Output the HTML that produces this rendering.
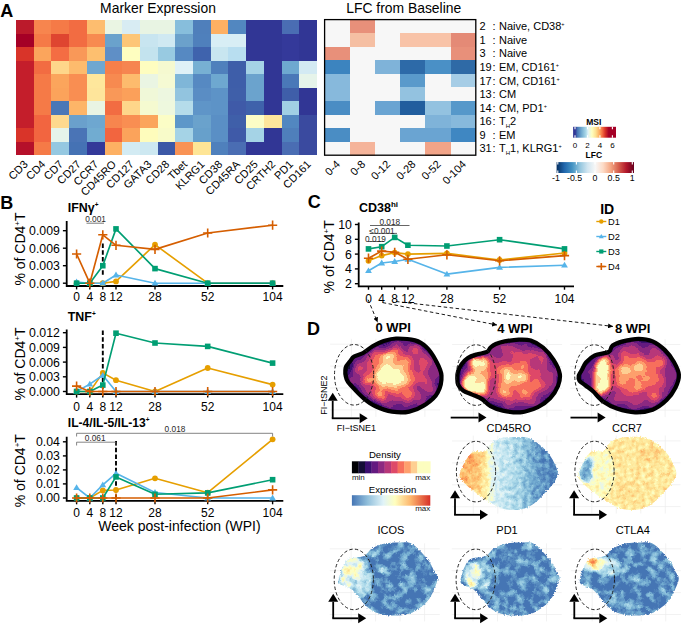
<!DOCTYPE html>
<html><head><meta charset="utf-8"><style>
html,body{margin:0;padding:0;background:#fff;overflow:hidden;width:685px;height:624px;}
svg{display:block;font-family:"Liberation Sans", sans-serif;}
</style></head><body>
<svg width="685" height="624" viewBox="0 0 685 624">
<rect width="685" height="624" fill="#fff"/>
<text x="0.3" y="16.6" font-size="18" text-anchor="start" font-weight="bold" fill="#000" >A</text>
<text x="158.0" y="13.3" font-size="13.9" text-anchor="middle" font-weight="normal" fill="#000" >Marker Expression</text>
<text x="403.7" y="13.3" font-size="13.9" text-anchor="middle" font-weight="normal" fill="#000" >LFC from Baseline</text>
<rect x="16.00" y="20.00" width="18.00" height="13.80" fill="#bb1a2b" shape-rendering="crispEdges"/>
<rect x="33.70" y="20.00" width="18.00" height="13.80" fill="#f7854e" shape-rendering="crispEdges"/>
<rect x="51.40" y="20.00" width="18.00" height="13.80" fill="#f57a47" shape-rendering="crispEdges"/>
<rect x="69.10" y="20.00" width="18.00" height="13.80" fill="#f26c42" shape-rendering="crispEdges"/>
<rect x="86.80" y="20.00" width="18.00" height="13.80" fill="#fdbd6f" shape-rendering="crispEdges"/>
<rect x="104.50" y="20.00" width="18.00" height="13.80" fill="#eaf5e3" shape-rendering="crispEdges"/>
<rect x="122.20" y="20.00" width="18.00" height="13.80" fill="#d8ecf3" shape-rendering="crispEdges"/>
<rect x="139.90" y="20.00" width="18.00" height="13.80" fill="#e8f4e3" shape-rendering="crispEdges"/>
<rect x="157.60" y="20.00" width="18.00" height="13.80" fill="#e8f4e3" shape-rendering="crispEdges"/>
<rect x="175.30" y="20.00" width="18.00" height="13.80" fill="#87bedc" shape-rendering="crispEdges"/>
<rect x="193.00" y="20.00" width="18.00" height="13.80" fill="#4f7fbb" shape-rendering="crispEdges"/>
<rect x="210.70" y="20.00" width="18.00" height="13.80" fill="#fdb063" shape-rendering="crispEdges"/>
<rect x="228.40" y="20.00" width="18.00" height="13.80" fill="#5287c0" shape-rendering="crispEdges"/>
<rect x="246.10" y="20.00" width="18.00" height="13.80" fill="#313695" shape-rendering="crispEdges"/>
<rect x="263.80" y="20.00" width="18.00" height="13.80" fill="#313695" shape-rendering="crispEdges"/>
<rect x="281.50" y="20.00" width="18.00" height="13.80" fill="#4a6db3" shape-rendering="crispEdges"/>
<rect x="299.20" y="20.00" width="18.00" height="13.80" fill="#313695" shape-rendering="crispEdges"/>
<rect x="16.00" y="33.50" width="18.00" height="13.80" fill="#a50026" shape-rendering="crispEdges"/>
<rect x="33.70" y="33.50" width="18.00" height="13.80" fill="#f57a47" shape-rendering="crispEdges"/>
<rect x="51.40" y="33.50" width="18.00" height="13.80" fill="#df4530" shape-rendering="crispEdges"/>
<rect x="69.10" y="33.50" width="18.00" height="13.80" fill="#f26c42" shape-rendering="crispEdges"/>
<rect x="86.80" y="33.50" width="18.00" height="13.80" fill="#f78a50" shape-rendering="crispEdges"/>
<rect x="104.50" y="33.50" width="18.00" height="13.80" fill="#6aa2cc" shape-rendering="crispEdges"/>
<rect x="122.20" y="33.50" width="18.00" height="13.80" fill="#fdc677" shape-rendering="crispEdges"/>
<rect x="139.90" y="33.50" width="18.00" height="13.80" fill="#c8e5f0" shape-rendering="crispEdges"/>
<rect x="157.60" y="33.50" width="18.00" height="13.80" fill="#d0e9f2" shape-rendering="crispEdges"/>
<rect x="175.30" y="33.50" width="18.00" height="13.80" fill="#6ba1cb" shape-rendering="crispEdges"/>
<rect x="193.00" y="33.50" width="18.00" height="13.80" fill="#4f80bc" shape-rendering="crispEdges"/>
<rect x="210.70" y="33.50" width="18.00" height="13.80" fill="#d8eef5" shape-rendering="crispEdges"/>
<rect x="228.40" y="33.50" width="18.00" height="13.80" fill="#d8eef5" shape-rendering="crispEdges"/>
<rect x="246.10" y="33.50" width="18.00" height="13.80" fill="#313695" shape-rendering="crispEdges"/>
<rect x="263.80" y="33.50" width="18.00" height="13.80" fill="#313695" shape-rendering="crispEdges"/>
<rect x="281.50" y="33.50" width="18.00" height="13.80" fill="#34399a" shape-rendering="crispEdges"/>
<rect x="299.20" y="33.50" width="18.00" height="13.80" fill="#313695" shape-rendering="crispEdges"/>
<rect x="16.00" y="47.00" width="18.00" height="13.80" fill="#d93429" shape-rendering="crispEdges"/>
<rect x="33.70" y="47.00" width="18.00" height="13.80" fill="#fba55c" shape-rendering="crispEdges"/>
<rect x="51.40" y="47.00" width="18.00" height="13.80" fill="#f46d43" shape-rendering="crispEdges"/>
<rect x="69.10" y="47.00" width="18.00" height="13.80" fill="#f99858" shape-rendering="crispEdges"/>
<rect x="86.80" y="47.00" width="18.00" height="13.80" fill="#fdbf6f" shape-rendering="crispEdges"/>
<rect x="104.50" y="47.00" width="18.00" height="13.80" fill="#5f8fc6" shape-rendering="crispEdges"/>
<rect x="122.20" y="47.00" width="18.00" height="13.80" fill="#fefec0" shape-rendering="crispEdges"/>
<rect x="139.90" y="47.00" width="18.00" height="13.80" fill="#c3e3ee" shape-rendering="crispEdges"/>
<rect x="157.60" y="47.00" width="18.00" height="13.80" fill="#98cae1" shape-rendering="crispEdges"/>
<rect x="175.30" y="47.00" width="18.00" height="13.80" fill="#5689c2" shape-rendering="crispEdges"/>
<rect x="193.00" y="47.00" width="18.00" height="13.80" fill="#3f63ad" shape-rendering="crispEdges"/>
<rect x="210.70" y="47.00" width="18.00" height="13.80" fill="#c8e6f0" shape-rendering="crispEdges"/>
<rect x="228.40" y="47.00" width="18.00" height="13.80" fill="#b8def0" shape-rendering="crispEdges"/>
<rect x="246.10" y="47.00" width="18.00" height="13.80" fill="#313695" shape-rendering="crispEdges"/>
<rect x="263.80" y="47.00" width="18.00" height="13.80" fill="#313695" shape-rendering="crispEdges"/>
<rect x="281.50" y="47.00" width="18.00" height="13.80" fill="#34399a" shape-rendering="crispEdges"/>
<rect x="299.20" y="47.00" width="18.00" height="13.80" fill="#313695" shape-rendering="crispEdges"/>
<rect x="16.00" y="60.50" width="18.00" height="13.80" fill="#c41e2b" shape-rendering="crispEdges"/>
<rect x="33.70" y="60.50" width="18.00" height="13.80" fill="#f26c42" shape-rendering="crispEdges"/>
<rect x="51.40" y="60.50" width="18.00" height="13.80" fill="#fed68a" shape-rendering="crispEdges"/>
<rect x="69.10" y="60.50" width="18.00" height="13.80" fill="#fdbb6d" shape-rendering="crispEdges"/>
<rect x="86.80" y="60.50" width="18.00" height="13.80" fill="#6fa7d0" shape-rendering="crispEdges"/>
<rect x="104.50" y="60.50" width="18.00" height="13.80" fill="#f67f4a" shape-rendering="crispEdges"/>
<rect x="122.20" y="60.50" width="18.00" height="13.80" fill="#f68550" shape-rendering="crispEdges"/>
<rect x="139.90" y="60.50" width="18.00" height="13.80" fill="#fefdc0" shape-rendering="crispEdges"/>
<rect x="157.60" y="60.50" width="18.00" height="13.80" fill="#f5f9d0" shape-rendering="crispEdges"/>
<rect x="175.30" y="60.50" width="18.00" height="13.80" fill="#dff1f7" shape-rendering="crispEdges"/>
<rect x="193.00" y="60.50" width="18.00" height="13.80" fill="#77b0d3" shape-rendering="crispEdges"/>
<rect x="210.70" y="60.50" width="18.00" height="13.80" fill="#4f80bc" shape-rendering="crispEdges"/>
<rect x="228.40" y="60.50" width="18.00" height="13.80" fill="#3e5ea9" shape-rendering="crispEdges"/>
<rect x="246.10" y="60.50" width="18.00" height="13.80" fill="#a5d3e6" shape-rendering="crispEdges"/>
<rect x="263.80" y="60.50" width="18.00" height="13.80" fill="#313695" shape-rendering="crispEdges"/>
<rect x="281.50" y="60.50" width="18.00" height="13.80" fill="#6ea8d0" shape-rendering="crispEdges"/>
<rect x="299.20" y="60.50" width="18.00" height="13.80" fill="#d3eaf3" shape-rendering="crispEdges"/>
<rect x="16.00" y="74.00" width="18.00" height="13.80" fill="#c41e2b" shape-rendering="crispEdges"/>
<rect x="33.70" y="74.00" width="18.00" height="13.80" fill="#f57a47" shape-rendering="crispEdges"/>
<rect x="51.40" y="74.00" width="18.00" height="13.80" fill="#fba55c" shape-rendering="crispEdges"/>
<rect x="69.10" y="74.00" width="18.00" height="13.80" fill="#f98e52" shape-rendering="crispEdges"/>
<rect x="86.80" y="74.00" width="18.00" height="13.80" fill="#fee79c" shape-rendering="crispEdges"/>
<rect x="104.50" y="74.00" width="18.00" height="13.80" fill="#f78a50" shape-rendering="crispEdges"/>
<rect x="122.20" y="74.00" width="18.00" height="13.80" fill="#fdbb6d" shape-rendering="crispEdges"/>
<rect x="139.90" y="74.00" width="18.00" height="13.80" fill="#eaf5e3" shape-rendering="crispEdges"/>
<rect x="157.60" y="74.00" width="18.00" height="13.80" fill="#f5fad3" shape-rendering="crispEdges"/>
<rect x="175.30" y="74.00" width="18.00" height="13.80" fill="#7fb6d8" shape-rendering="crispEdges"/>
<rect x="193.00" y="74.00" width="18.00" height="13.80" fill="#5689c2" shape-rendering="crispEdges"/>
<rect x="210.70" y="74.00" width="18.00" height="13.80" fill="#6ea8d0" shape-rendering="crispEdges"/>
<rect x="228.40" y="74.00" width="18.00" height="13.80" fill="#3e5ea9" shape-rendering="crispEdges"/>
<rect x="246.10" y="74.00" width="18.00" height="13.80" fill="#6ba3cd" shape-rendering="crispEdges"/>
<rect x="263.80" y="74.00" width="18.00" height="13.80" fill="#313695" shape-rendering="crispEdges"/>
<rect x="281.50" y="74.00" width="18.00" height="13.80" fill="#4a78b8" shape-rendering="crispEdges"/>
<rect x="299.20" y="74.00" width="18.00" height="13.80" fill="#e6f4ea" shape-rendering="crispEdges"/>
<rect x="16.00" y="87.50" width="18.00" height="13.80" fill="#c41e2b" shape-rendering="crispEdges"/>
<rect x="33.70" y="87.50" width="18.00" height="13.80" fill="#f57a47" shape-rendering="crispEdges"/>
<rect x="51.40" y="87.50" width="18.00" height="13.80" fill="#fba35b" shape-rendering="crispEdges"/>
<rect x="69.10" y="87.50" width="18.00" height="13.80" fill="#f98e52" shape-rendering="crispEdges"/>
<rect x="86.80" y="87.50" width="18.00" height="13.80" fill="#fee59b" shape-rendering="crispEdges"/>
<rect x="104.50" y="87.50" width="18.00" height="13.80" fill="#f99858" shape-rendering="crispEdges"/>
<rect x="122.20" y="87.50" width="18.00" height="13.80" fill="#fba05a" shape-rendering="crispEdges"/>
<rect x="139.90" y="87.50" width="18.00" height="13.80" fill="#f0f8d8" shape-rendering="crispEdges"/>
<rect x="157.60" y="87.50" width="18.00" height="13.80" fill="#edf7e0" shape-rendering="crispEdges"/>
<rect x="175.30" y="87.50" width="18.00" height="13.80" fill="#92c4df" shape-rendering="crispEdges"/>
<rect x="193.00" y="87.50" width="18.00" height="13.80" fill="#5a8dc4" shape-rendering="crispEdges"/>
<rect x="210.70" y="87.50" width="18.00" height="13.80" fill="#5d93c7" shape-rendering="crispEdges"/>
<rect x="228.40" y="87.50" width="18.00" height="13.80" fill="#3f5fa9" shape-rendering="crispEdges"/>
<rect x="246.10" y="87.50" width="18.00" height="13.80" fill="#6ba3cd" shape-rendering="crispEdges"/>
<rect x="263.80" y="87.50" width="18.00" height="13.80" fill="#313695" shape-rendering="crispEdges"/>
<rect x="281.50" y="87.50" width="18.00" height="13.80" fill="#3f5ea9" shape-rendering="crispEdges"/>
<rect x="299.20" y="87.50" width="18.00" height="13.80" fill="#313695" shape-rendering="crispEdges"/>
<rect x="16.00" y="101.00" width="18.00" height="13.80" fill="#c41e2b" shape-rendering="crispEdges"/>
<rect x="33.70" y="101.00" width="18.00" height="13.80" fill="#f57a47" shape-rendering="crispEdges"/>
<rect x="51.40" y="101.00" width="18.00" height="13.80" fill="#4a77b7" shape-rendering="crispEdges"/>
<rect x="69.10" y="101.00" width="18.00" height="13.80" fill="#fdb568" shape-rendering="crispEdges"/>
<rect x="86.80" y="101.00" width="18.00" height="13.80" fill="#e9f4e3" shape-rendering="crispEdges"/>
<rect x="104.50" y="101.00" width="18.00" height="13.80" fill="#f26c42" shape-rendering="crispEdges"/>
<rect x="122.20" y="101.00" width="18.00" height="13.80" fill="#fed68a" shape-rendering="crispEdges"/>
<rect x="139.90" y="101.00" width="18.00" height="13.80" fill="#f5fad0" shape-rendering="crispEdges"/>
<rect x="157.60" y="101.00" width="18.00" height="13.80" fill="#eef8de" shape-rendering="crispEdges"/>
<rect x="175.30" y="101.00" width="18.00" height="13.80" fill="#b5dcea" shape-rendering="crispEdges"/>
<rect x="193.00" y="101.00" width="18.00" height="13.80" fill="#5f95c8" shape-rendering="crispEdges"/>
<rect x="210.70" y="101.00" width="18.00" height="13.80" fill="#5d93c7" shape-rendering="crispEdges"/>
<rect x="228.40" y="101.00" width="18.00" height="13.80" fill="#3f5aa8" shape-rendering="crispEdges"/>
<rect x="246.10" y="101.00" width="18.00" height="13.80" fill="#3f62ab" shape-rendering="crispEdges"/>
<rect x="263.80" y="101.00" width="18.00" height="13.80" fill="#313695" shape-rendering="crispEdges"/>
<rect x="281.50" y="101.00" width="18.00" height="13.80" fill="#a0cfe4" shape-rendering="crispEdges"/>
<rect x="299.20" y="101.00" width="18.00" height="13.80" fill="#313695" shape-rendering="crispEdges"/>
<rect x="16.00" y="114.50" width="18.00" height="13.80" fill="#c41e2b" shape-rendering="crispEdges"/>
<rect x="33.70" y="114.50" width="18.00" height="13.80" fill="#f26540" shape-rendering="crispEdges"/>
<rect x="51.40" y="114.50" width="18.00" height="13.80" fill="#fed98e" shape-rendering="crispEdges"/>
<rect x="69.10" y="114.50" width="18.00" height="13.80" fill="#6aa0cc" shape-rendering="crispEdges"/>
<rect x="86.80" y="114.50" width="18.00" height="13.80" fill="#6ea7d0" shape-rendering="crispEdges"/>
<rect x="104.50" y="114.50" width="18.00" height="13.80" fill="#f7854e" shape-rendering="crispEdges"/>
<rect x="122.20" y="114.50" width="18.00" height="13.80" fill="#f98e52" shape-rendering="crispEdges"/>
<rect x="139.90" y="114.50" width="18.00" height="13.80" fill="#fba55c" shape-rendering="crispEdges"/>
<rect x="157.60" y="114.50" width="18.00" height="13.80" fill="#fbfdc6" shape-rendering="crispEdges"/>
<rect x="175.30" y="114.50" width="18.00" height="13.80" fill="#5d97c9" shape-rendering="crispEdges"/>
<rect x="193.00" y="114.50" width="18.00" height="13.80" fill="#6aa2cc" shape-rendering="crispEdges"/>
<rect x="210.70" y="114.50" width="18.00" height="13.80" fill="#5a8fc5" shape-rendering="crispEdges"/>
<rect x="228.40" y="114.50" width="18.00" height="13.80" fill="#3f5fa9" shape-rendering="crispEdges"/>
<rect x="246.10" y="114.50" width="18.00" height="13.80" fill="#fcfdc6" shape-rendering="crispEdges"/>
<rect x="263.80" y="114.50" width="18.00" height="13.80" fill="#fee59c" shape-rendering="crispEdges"/>
<rect x="281.50" y="114.50" width="18.00" height="13.80" fill="#5287c0" shape-rendering="crispEdges"/>
<rect x="299.20" y="114.50" width="18.00" height="13.80" fill="#3a4a9f" shape-rendering="crispEdges"/>
<rect x="16.00" y="128.00" width="18.00" height="13.80" fill="#d93429" shape-rendering="crispEdges"/>
<rect x="33.70" y="128.00" width="18.00" height="13.80" fill="#f26540" shape-rendering="crispEdges"/>
<rect x="51.40" y="128.00" width="18.00" height="13.80" fill="#e6f4ea" shape-rendering="crispEdges"/>
<rect x="69.10" y="128.00" width="18.00" height="13.80" fill="#4a74b6" shape-rendering="crispEdges"/>
<rect x="86.80" y="128.00" width="18.00" height="13.80" fill="#71acd1" shape-rendering="crispEdges"/>
<rect x="104.50" y="128.00" width="18.00" height="13.80" fill="#f2653f" shape-rendering="crispEdges"/>
<rect x="122.20" y="128.00" width="18.00" height="13.80" fill="#fba35b" shape-rendering="crispEdges"/>
<rect x="139.90" y="128.00" width="18.00" height="13.80" fill="#fefcbc" shape-rendering="crispEdges"/>
<rect x="157.60" y="128.00" width="18.00" height="13.80" fill="#f8fbc9" shape-rendering="crispEdges"/>
<rect x="175.30" y="128.00" width="18.00" height="13.80" fill="#a5d3e6" shape-rendering="crispEdges"/>
<rect x="193.00" y="128.00" width="18.00" height="13.80" fill="#67a0cb" shape-rendering="crispEdges"/>
<rect x="210.70" y="128.00" width="18.00" height="13.80" fill="#5a8fc5" shape-rendering="crispEdges"/>
<rect x="228.40" y="128.00" width="18.00" height="13.80" fill="#3f5aa8" shape-rendering="crispEdges"/>
<rect x="246.10" y="128.00" width="18.00" height="13.80" fill="#a5d3e6" shape-rendering="crispEdges"/>
<rect x="263.80" y="128.00" width="18.00" height="13.80" fill="#313695" shape-rendering="crispEdges"/>
<rect x="281.50" y="128.00" width="18.00" height="13.80" fill="#4f7fbb" shape-rendering="crispEdges"/>
<rect x="299.20" y="128.00" width="18.00" height="13.80" fill="#3a4a9f" shape-rendering="crispEdges"/>
<rect x="16.00" y="141.50" width="18.00" height="13.80" fill="#b5102a" shape-rendering="crispEdges"/>
<rect x="33.70" y="141.50" width="18.00" height="13.80" fill="#f57a47" shape-rendering="crispEdges"/>
<rect x="51.40" y="141.50" width="18.00" height="13.80" fill="#95c8e1" shape-rendering="crispEdges"/>
<rect x="69.10" y="141.50" width="18.00" height="13.80" fill="#4572b4" shape-rendering="crispEdges"/>
<rect x="86.80" y="141.50" width="18.00" height="13.80" fill="#333999" shape-rendering="crispEdges"/>
<rect x="104.50" y="141.50" width="18.00" height="13.80" fill="#fdb063" shape-rendering="crispEdges"/>
<rect x="122.20" y="141.50" width="18.00" height="13.80" fill="#d3ebf3" shape-rendering="crispEdges"/>
<rect x="139.90" y="141.50" width="18.00" height="13.80" fill="#cde8f1" shape-rendering="crispEdges"/>
<rect x="157.60" y="141.50" width="18.00" height="13.80" fill="#3c58a6" shape-rendering="crispEdges"/>
<rect x="175.30" y="141.50" width="18.00" height="13.80" fill="#f99355" shape-rendering="crispEdges"/>
<rect x="193.00" y="141.50" width="18.00" height="13.80" fill="#fee596" shape-rendering="crispEdges"/>
<rect x="210.70" y="141.50" width="18.00" height="13.80" fill="#4f80bc" shape-rendering="crispEdges"/>
<rect x="228.40" y="141.50" width="18.00" height="13.80" fill="#4a6db3" shape-rendering="crispEdges"/>
<rect x="246.10" y="141.50" width="18.00" height="13.80" fill="#313695" shape-rendering="crispEdges"/>
<rect x="263.80" y="141.50" width="18.00" height="13.80" fill="#313695" shape-rendering="crispEdges"/>
<rect x="281.50" y="141.50" width="18.00" height="13.80" fill="#4a6db3" shape-rendering="crispEdges"/>
<rect x="299.20" y="141.50" width="18.00" height="13.80" fill="#3a4a9f" shape-rendering="crispEdges"/>
<text x="28.5" y="165" font-size="11" text-anchor="end" transform="rotate(-45 28.5 165)">CD3</text>
<text x="46.1" y="165" font-size="11" text-anchor="end" transform="rotate(-45 46.1 165)">CD4</text>
<text x="63.9" y="165" font-size="11" text-anchor="end" transform="rotate(-45 63.9 165)">CD7</text>
<text x="81.5" y="165" font-size="11" text-anchor="end" transform="rotate(-45 81.5 165)">CD27</text>
<text x="99.2" y="165" font-size="11" text-anchor="end" transform="rotate(-45 99.2 165)">CCR7</text>
<text x="116.9" y="165" font-size="11" text-anchor="end" transform="rotate(-45 116.9 165)">CD45RO</text>
<text x="134.7" y="165" font-size="11" text-anchor="end" transform="rotate(-45 134.7 165)">CD127</text>
<text x="152.3" y="165" font-size="11" text-anchor="end" transform="rotate(-45 152.3 165)">GATA3</text>
<text x="170.0" y="165" font-size="11" text-anchor="end" transform="rotate(-45 170.0 165)">CD28</text>
<text x="187.8" y="165" font-size="11" text-anchor="end" transform="rotate(-45 187.8 165)">Tbet</text>
<text x="205.4" y="165" font-size="11" text-anchor="end" transform="rotate(-45 205.4 165)">KLRG1</text>
<text x="223.1" y="165" font-size="11" text-anchor="end" transform="rotate(-45 223.1 165)">CD38</text>
<text x="240.8" y="165" font-size="11" text-anchor="end" transform="rotate(-45 240.8 165)">CD45RA</text>
<text x="258.6" y="165" font-size="11" text-anchor="end" transform="rotate(-45 258.6 165)">CD25</text>
<text x="276.2" y="165" font-size="11" text-anchor="end" transform="rotate(-45 276.2 165)">CRTH2</text>
<text x="293.9" y="165" font-size="11" text-anchor="end" transform="rotate(-45 293.9 165)">PD1</text>
<text x="311.7" y="165" font-size="11" text-anchor="end" transform="rotate(-45 311.7 165)">CD161</text>
<rect x="324.60" y="19.60" width="25.50" height="13.86" fill="#f7f7f7" shape-rendering="crispEdges"/>
<rect x="349.80" y="19.60" width="25.50" height="13.86" fill="#e8907a" shape-rendering="crispEdges"/>
<rect x="375.00" y="19.60" width="25.50" height="13.86" fill="#f7f7f7" shape-rendering="crispEdges"/>
<rect x="400.20" y="19.60" width="25.50" height="13.86" fill="#f7f7f7" shape-rendering="crispEdges"/>
<rect x="425.40" y="19.60" width="25.50" height="13.86" fill="#f7f7f7" shape-rendering="crispEdges"/>
<rect x="450.60" y="19.60" width="25.50" height="13.86" fill="#f7f7f7" shape-rendering="crispEdges"/>
<rect x="324.60" y="33.16" width="25.50" height="13.86" fill="#f7f7f7" shape-rendering="crispEdges"/>
<rect x="349.80" y="33.16" width="25.50" height="13.86" fill="#f5bfa3" shape-rendering="crispEdges"/>
<rect x="375.00" y="33.16" width="25.50" height="13.86" fill="#f7f7f7" shape-rendering="crispEdges"/>
<rect x="400.20" y="33.16" width="25.50" height="13.86" fill="#f8c3a8" shape-rendering="crispEdges"/>
<rect x="425.40" y="33.16" width="25.50" height="13.86" fill="#f8c3a8" shape-rendering="crispEdges"/>
<rect x="450.60" y="33.16" width="25.50" height="13.86" fill="#e48a76" shape-rendering="crispEdges"/>
<rect x="324.60" y="46.72" width="25.50" height="13.86" fill="#e8907a" shape-rendering="crispEdges"/>
<rect x="349.80" y="46.72" width="25.50" height="13.86" fill="#f7f7f7" shape-rendering="crispEdges"/>
<rect x="375.00" y="46.72" width="25.50" height="13.86" fill="#f7f7f7" shape-rendering="crispEdges"/>
<rect x="400.20" y="46.72" width="25.50" height="13.86" fill="#f7f7f7" shape-rendering="crispEdges"/>
<rect x="425.40" y="46.72" width="25.50" height="13.86" fill="#f7f7f7" shape-rendering="crispEdges"/>
<rect x="450.60" y="46.72" width="25.50" height="13.86" fill="#e8907a" shape-rendering="crispEdges"/>
<rect x="324.60" y="60.28" width="25.50" height="13.86" fill="#3c84bf" shape-rendering="crispEdges"/>
<rect x="349.80" y="60.28" width="25.50" height="13.86" fill="#f7f7f7" shape-rendering="crispEdges"/>
<rect x="375.00" y="60.28" width="25.50" height="13.86" fill="#7fb3d9" shape-rendering="crispEdges"/>
<rect x="400.20" y="60.28" width="25.50" height="13.86" fill="#2d6aa8" shape-rendering="crispEdges"/>
<rect x="425.40" y="60.28" width="25.50" height="13.86" fill="#4a90c6" shape-rendering="crispEdges"/>
<rect x="450.60" y="60.28" width="25.50" height="13.86" fill="#2f6aa6" shape-rendering="crispEdges"/>
<rect x="324.60" y="73.84" width="25.50" height="13.86" fill="#87b9dc" shape-rendering="crispEdges"/>
<rect x="349.80" y="73.84" width="25.50" height="13.86" fill="#f7f7f7" shape-rendering="crispEdges"/>
<rect x="375.00" y="73.84" width="25.50" height="13.86" fill="#f7f7f7" shape-rendering="crispEdges"/>
<rect x="400.20" y="73.84" width="25.50" height="13.86" fill="#5a9acb" shape-rendering="crispEdges"/>
<rect x="425.40" y="73.84" width="25.50" height="13.86" fill="#f7f7f7" shape-rendering="crispEdges"/>
<rect x="450.60" y="73.84" width="25.50" height="13.86" fill="#a6cde6" shape-rendering="crispEdges"/>
<rect x="324.60" y="87.40" width="25.50" height="13.86" fill="#87b9dc" shape-rendering="crispEdges"/>
<rect x="349.80" y="87.40" width="25.50" height="13.86" fill="#f7f7f7" shape-rendering="crispEdges"/>
<rect x="375.00" y="87.40" width="25.50" height="13.86" fill="#f7f7f7" shape-rendering="crispEdges"/>
<rect x="400.20" y="87.40" width="25.50" height="13.86" fill="#93c2e0" shape-rendering="crispEdges"/>
<rect x="425.40" y="87.40" width="25.50" height="13.86" fill="#f7f7f7" shape-rendering="crispEdges"/>
<rect x="450.60" y="87.40" width="25.50" height="13.86" fill="#f7f7f7" shape-rendering="crispEdges"/>
<rect x="324.60" y="100.96" width="25.50" height="13.86" fill="#4a8dc4" shape-rendering="crispEdges"/>
<rect x="349.80" y="100.96" width="25.50" height="13.86" fill="#f7f7f7" shape-rendering="crispEdges"/>
<rect x="375.00" y="100.96" width="25.50" height="13.86" fill="#6aa4d2" shape-rendering="crispEdges"/>
<rect x="400.20" y="100.96" width="25.50" height="13.86" fill="#225e9e" shape-rendering="crispEdges"/>
<rect x="425.40" y="100.96" width="25.50" height="13.86" fill="#93c2e0" shape-rendering="crispEdges"/>
<rect x="450.60" y="100.96" width="25.50" height="13.86" fill="#5698ca" shape-rendering="crispEdges"/>
<rect x="324.60" y="114.52" width="25.50" height="13.86" fill="#f7f7f7" shape-rendering="crispEdges"/>
<rect x="349.80" y="114.52" width="25.50" height="13.86" fill="#f7f7f7" shape-rendering="crispEdges"/>
<rect x="375.00" y="114.52" width="25.50" height="13.86" fill="#f7f7f7" shape-rendering="crispEdges"/>
<rect x="400.20" y="114.52" width="25.50" height="13.86" fill="#f7f7f7" shape-rendering="crispEdges"/>
<rect x="425.40" y="114.52" width="25.50" height="13.86" fill="#7fb3d9" shape-rendering="crispEdges"/>
<rect x="450.60" y="114.52" width="25.50" height="13.86" fill="#87b9dc" shape-rendering="crispEdges"/>
<rect x="324.60" y="128.08" width="25.50" height="13.86" fill="#4a8dc4" shape-rendering="crispEdges"/>
<rect x="349.80" y="128.08" width="25.50" height="13.86" fill="#f7f7f7" shape-rendering="crispEdges"/>
<rect x="375.00" y="128.08" width="25.50" height="13.86" fill="#f7f7f7" shape-rendering="crispEdges"/>
<rect x="400.20" y="128.08" width="25.50" height="13.86" fill="#6aa4d2" shape-rendering="crispEdges"/>
<rect x="425.40" y="128.08" width="25.50" height="13.86" fill="#6aa4d2" shape-rendering="crispEdges"/>
<rect x="450.60" y="128.08" width="25.50" height="13.86" fill="#3f87c2" shape-rendering="crispEdges"/>
<rect x="324.60" y="141.64" width="25.50" height="13.86" fill="#f7f7f7" shape-rendering="crispEdges"/>
<rect x="349.80" y="141.64" width="25.50" height="13.86" fill="#f5b49a" shape-rendering="crispEdges"/>
<rect x="375.00" y="141.64" width="25.50" height="13.86" fill="#f7f7f7" shape-rendering="crispEdges"/>
<rect x="400.20" y="141.64" width="25.50" height="13.86" fill="#f7f7f7" shape-rendering="crispEdges"/>
<rect x="425.40" y="141.64" width="25.50" height="13.86" fill="#f2a488" shape-rendering="crispEdges"/>
<rect x="450.60" y="141.64" width="25.50" height="13.86" fill="#f7f7f7" shape-rendering="crispEdges"/>
<rect x="324.6" y="19.6" width="151.2" height="135.6" fill="none" stroke="#000" stroke-width="1.3"/>
<text x="340.8" y="165" font-size="11" text-anchor="end" transform="rotate(-45 340.8 165)">0-4</text>
<text x="366.0" y="165" font-size="11" text-anchor="end" transform="rotate(-45 366.0 165)">0-8</text>
<text x="391.2" y="165" font-size="11" text-anchor="end" transform="rotate(-45 391.2 165)">0-12</text>
<text x="416.4" y="165" font-size="11" text-anchor="end" transform="rotate(-45 416.4 165)">0-28</text>
<text x="441.6" y="165" font-size="11" text-anchor="end" transform="rotate(-45 441.6 165)">0-52</text>
<text x="466.8" y="165" font-size="11" text-anchor="end" transform="rotate(-45 466.8 165)">0-104</text>
<text x="479.4" y="30.3" font-size="11" text-anchor="start" font-weight="normal" fill="#000" >2</text>
<text x="492.6" y="30.3" font-size="11" text-anchor="start" font-weight="normal" fill="#000" >:</text>
<text x="499.0" y="30.3" font-size="11" text-anchor="start" font-weight="normal" fill="#000" >Naive, CD38<tspan font-size="5.5" dy="-4">+</tspan></text>
<text x="479.4" y="43.9" font-size="11" text-anchor="start" font-weight="normal" fill="#000" >1</text>
<text x="492.6" y="43.9" font-size="11" text-anchor="start" font-weight="normal" fill="#000" >:</text>
<text x="499.0" y="43.9" font-size="11" text-anchor="start" font-weight="normal" fill="#000" >Naive</text>
<text x="479.4" y="57.4" font-size="11" text-anchor="start" font-weight="normal" fill="#000" >3</text>
<text x="492.6" y="57.4" font-size="11" text-anchor="start" font-weight="normal" fill="#000" >:</text>
<text x="499.0" y="57.4" font-size="11" text-anchor="start" font-weight="normal" fill="#000" >Naive</text>
<text x="479.4" y="71.0" font-size="11" text-anchor="start" font-weight="normal" fill="#000" >19</text>
<text x="492.6" y="71.0" font-size="11" text-anchor="start" font-weight="normal" fill="#000" >:</text>
<text x="499.0" y="71.0" font-size="11" text-anchor="start" font-weight="normal" fill="#000" >EM, CD161<tspan font-size="5.5" dy="-4">+</tspan></text>
<text x="479.4" y="84.5" font-size="11" text-anchor="start" font-weight="normal" fill="#000" >17</text>
<text x="492.6" y="84.5" font-size="11" text-anchor="start" font-weight="normal" fill="#000" >:</text>
<text x="499.0" y="84.5" font-size="11" text-anchor="start" font-weight="normal" fill="#000" >CM, CD161<tspan font-size="5.5" dy="-4">+</tspan></text>
<text x="479.4" y="98.1" font-size="11" text-anchor="start" font-weight="normal" fill="#000" >13</text>
<text x="492.6" y="98.1" font-size="11" text-anchor="start" font-weight="normal" fill="#000" >:</text>
<text x="499.0" y="98.1" font-size="11" text-anchor="start" font-weight="normal" fill="#000" >CM</text>
<text x="479.4" y="111.7" font-size="11" text-anchor="start" font-weight="normal" fill="#000" >14</text>
<text x="492.6" y="111.7" font-size="11" text-anchor="start" font-weight="normal" fill="#000" >:</text>
<text x="499.0" y="111.7" font-size="11" text-anchor="start" font-weight="normal" fill="#000" >CM, PD1<tspan font-size="5.5" dy="-4">+</tspan></text>
<text x="479.4" y="125.2" font-size="11" text-anchor="start" font-weight="normal" fill="#000" >16</text>
<text x="492.6" y="125.2" font-size="11" text-anchor="start" font-weight="normal" fill="#000" >:</text>
<text x="499.0" y="125.2" font-size="11" text-anchor="start" font-weight="normal" fill="#000" >T<tspan font-size="6" dy="3">H</tspan><tspan dy="-3">2</tspan></text>
<text x="479.4" y="138.8" font-size="11" text-anchor="start" font-weight="normal" fill="#000" >9</text>
<text x="492.6" y="138.8" font-size="11" text-anchor="start" font-weight="normal" fill="#000" >:</text>
<text x="499.0" y="138.8" font-size="11" text-anchor="start" font-weight="normal" fill="#000" >EM</text>
<text x="479.4" y="152.3" font-size="11" text-anchor="start" font-weight="normal" fill="#000" >31</text>
<text x="492.6" y="152.3" font-size="11" text-anchor="start" font-weight="normal" fill="#000" >:</text>
<text x="499.0" y="152.3" font-size="11" text-anchor="start" font-weight="normal" fill="#000" >T<tspan font-size="6" dy="3">H</tspan><tspan dy="-3">1, KLRG1</tspan><tspan font-size="5.5" dy="-4">+</tspan></text>
<defs><linearGradient id="msi" x1="0" x2="1" y1="0" y2="0"><stop offset="0.05" stop-color="#313695"/><stop offset="0.1" stop-color="#4575b4"/><stop offset="0.2" stop-color="#74add1"/><stop offset="0.3" stop-color="#abd9e9"/><stop offset="0.35" stop-color="#e0f3f8"/><stop offset="0.44" stop-color="#ffffbf"/><stop offset="0.53" stop-color="#fee090"/><stop offset="0.61" stop-color="#fdae61"/><stop offset="0.68" stop-color="#f46d43"/><stop offset="0.75" stop-color="#d73027"/><stop offset="0.83" stop-color="#a50026"/></linearGradient><linearGradient id="lfc" x1="0" x2="1" y1="0" y2="0"><stop offset="0" stop-color="#053061"/><stop offset="0.1" stop-color="#2166ac"/><stop offset="0.2" stop-color="#4393c3"/><stop offset="0.3" stop-color="#92c5de"/><stop offset="0.4" stop-color="#d1e5f0"/><stop offset="0.5" stop-color="#f7f7f7"/><stop offset="0.6" stop-color="#fddbc7"/><stop offset="0.7" stop-color="#f4a582"/><stop offset="0.8" stop-color="#d6604d"/><stop offset="0.9" stop-color="#b2182b"/><stop offset="1" stop-color="#67001f"/></linearGradient><linearGradient id="expr" x1="0" x2="1" y1="0" y2="0"><stop offset="0" stop-color="#4575b4"/><stop offset="0.2" stop-color="#91bfdb"/><stop offset="0.4" stop-color="#e0f3f8"/><stop offset="0.55" stop-color="#ffffbf"/><stop offset="0.75" stop-color="#fdb66d"/><stop offset="1" stop-color="#d73027"/></linearGradient></defs>
<text x="593.8" y="124.5" font-size="8.5" text-anchor="middle" font-weight="bold" fill="#000" >MSI</text>
<rect x="573.1" y="126.8" width="42.9" height="10.9" fill="url(#msi)"/>
<line x1="575.0" y1="126.8" x2="575.0" y2="129.3" stroke="#fff" stroke-width="1.1"/>
<line x1="575.0" y1="135.2" x2="575.0" y2="137.7" stroke="#fff" stroke-width="1.1"/>
<text x="575.0" y="147.8" font-size="8" text-anchor="middle" font-weight="normal" fill="#000" >0</text>
<line x1="587.5" y1="126.8" x2="587.5" y2="129.3" stroke="#fff" stroke-width="1.1"/>
<line x1="587.5" y1="135.2" x2="587.5" y2="137.7" stroke="#fff" stroke-width="1.1"/>
<text x="587.5" y="147.8" font-size="8" text-anchor="middle" font-weight="normal" fill="#000" >2</text>
<line x1="599.9" y1="126.8" x2="599.9" y2="129.3" stroke="#fff" stroke-width="1.1"/>
<line x1="599.9" y1="135.2" x2="599.9" y2="137.7" stroke="#fff" stroke-width="1.1"/>
<text x="599.9" y="147.8" font-size="8" text-anchor="middle" font-weight="normal" fill="#000" >4</text>
<line x1="612.4" y1="126.8" x2="612.4" y2="129.3" stroke="#fff" stroke-width="1.1"/>
<line x1="612.4" y1="135.2" x2="612.4" y2="137.7" stroke="#fff" stroke-width="1.1"/>
<text x="612.4" y="147.8" font-size="8" text-anchor="middle" font-weight="normal" fill="#000" >6</text>
<text x="593.8" y="158.0" font-size="8.5" text-anchor="middle" font-weight="bold" fill="#000" >LFC</text>
<rect x="556.6" y="162.1" width="77.4" height="10.9" fill="url(#lfc)"/>
<line x1="557.8" y1="162.1" x2="557.8" y2="164.6" stroke="#fff" stroke-width="1.1"/>
<line x1="557.8" y1="170.5" x2="557.8" y2="173" stroke="#fff" stroke-width="1.1"/>
<text x="556.0" y="181.2" font-size="8.8" text-anchor="middle" font-weight="normal" fill="#000" >-1</text>
<line x1="576.4" y1="162.1" x2="576.4" y2="164.6" stroke="#fff" stroke-width="1.1"/>
<line x1="576.4" y1="170.5" x2="576.4" y2="173" stroke="#fff" stroke-width="1.1"/>
<text x="574.6" y="181.2" font-size="8.8" text-anchor="middle" font-weight="normal" fill="#000" >-0.5</text>
<line x1="595.0" y1="162.1" x2="595.0" y2="164.6" stroke="#fff" stroke-width="1.1"/>
<line x1="595.0" y1="170.5" x2="595.0" y2="173" stroke="#fff" stroke-width="1.1"/>
<text x="595.0" y="181.2" font-size="8.8" text-anchor="middle" font-weight="normal" fill="#000" >0</text>
<line x1="613.7" y1="162.1" x2="613.7" y2="164.6" stroke="#fff" stroke-width="1.1"/>
<line x1="613.7" y1="170.5" x2="613.7" y2="173" stroke="#fff" stroke-width="1.1"/>
<text x="613.7" y="181.2" font-size="8.8" text-anchor="middle" font-weight="normal" fill="#000" >0.5</text>
<line x1="632.3" y1="162.1" x2="632.3" y2="164.6" stroke="#fff" stroke-width="1.1"/>
<line x1="632.3" y1="170.5" x2="632.3" y2="173" stroke="#fff" stroke-width="1.1"/>
<text x="632.3" y="181.2" font-size="8.8" text-anchor="middle" font-weight="normal" fill="#000" >1</text>
<text x="0.3" y="208.8" font-size="18" text-anchor="start" font-weight="bold" fill="#000" >B</text>
<text x="67.8" y="212.0" font-size="12.4" text-anchor="start" font-weight="bold" fill="#000" >IFNγ<tspan font-size="6.5" dy="-5">+</tspan></text>
<path d="M66.7 221V286H283.3" stroke="#000" stroke-width="1.8" fill="none"/>
<line x1="62.900000000000006" y1="230.7" x2="66.7" y2="230.7" stroke="#000" stroke-width="1.4"/>
<text x="59.9" y="235.1" font-size="12.3" text-anchor="end" font-weight="normal" fill="#000" >0.009</text>
<line x1="62.900000000000006" y1="248.2" x2="66.7" y2="248.2" stroke="#000" stroke-width="1.4"/>
<text x="59.9" y="252.6" font-size="12.3" text-anchor="end" font-weight="normal" fill="#000" >0.006</text>
<line x1="62.900000000000006" y1="265.7" x2="66.7" y2="265.7" stroke="#000" stroke-width="1.4"/>
<text x="59.9" y="270.1" font-size="12.3" text-anchor="end" font-weight="normal" fill="#000" >0.003</text>
<line x1="62.900000000000006" y1="283.2" x2="66.7" y2="283.2" stroke="#000" stroke-width="1.4"/>
<text x="59.9" y="287.6" font-size="12.3" text-anchor="end" font-weight="normal" fill="#000" >0.000</text>
<line x1="76.6" y1="286" x2="76.6" y2="289.4" stroke="#000" stroke-width="1.4"/>
<text x="76.6" y="301.2" font-size="12" text-anchor="middle" font-weight="normal" fill="#000" >0</text>
<line x1="89.8" y1="286" x2="89.8" y2="289.4" stroke="#000" stroke-width="1.4"/>
<text x="89.8" y="301.2" font-size="12" text-anchor="middle" font-weight="normal" fill="#000" >4</text>
<line x1="102.8" y1="286" x2="102.8" y2="289.4" stroke="#000" stroke-width="1.4"/>
<text x="102.8" y="301.2" font-size="12" text-anchor="middle" font-weight="normal" fill="#000" >8</text>
<line x1="116.0" y1="286" x2="116.0" y2="289.4" stroke="#000" stroke-width="1.4"/>
<text x="116.0" y="301.2" font-size="12" text-anchor="middle" font-weight="normal" fill="#000" >12</text>
<line x1="155.0" y1="286" x2="155.0" y2="289.4" stroke="#000" stroke-width="1.4"/>
<text x="155.0" y="301.2" font-size="12" text-anchor="middle" font-weight="normal" fill="#000" >28</text>
<line x1="207.7" y1="286" x2="207.7" y2="289.4" stroke="#000" stroke-width="1.4"/>
<text x="207.7" y="301.2" font-size="12" text-anchor="middle" font-weight="normal" fill="#000" >52</text>
<line x1="272.6" y1="286" x2="272.6" y2="289.4" stroke="#000" stroke-width="1.4"/>
<text x="272.6" y="301.2" font-size="12" text-anchor="middle" font-weight="normal" fill="#000" >104</text>
<text x="24.8" y="249" font-size="14" text-anchor="middle" transform="rotate(-90 24.8 249)">% of CD4<tspan font-size="8" dy="-5">+</tspan><tspan dy="5">T</tspan></text>
<line x1="102.8" y1="243.5" x2="102.8" y2="275" stroke="#000" stroke-width="1.9" stroke-dasharray="4.5,2.2"/>
<polyline points="76.6,283.2 89.8,283.2 102.8,283.2 116.0,281.4 155.0,244.7 207.7,283.2 272.6,283.2" fill="none" stroke="#E69F00" stroke-width="1.65" stroke-linejoin="round"/>
<circle cx="76.6" cy="283.2" r="2.90" fill="#E69F00"/>
<circle cx="89.8" cy="283.2" r="2.90" fill="#E69F00"/>
<circle cx="102.8" cy="283.2" r="2.90" fill="#E69F00"/>
<circle cx="116.0" cy="281.4" r="2.90" fill="#E69F00"/>
<circle cx="155.0" cy="244.7" r="2.90" fill="#E69F00"/>
<circle cx="207.7" cy="283.2" r="2.90" fill="#E69F00"/>
<circle cx="272.6" cy="283.2" r="2.90" fill="#E69F00"/>
<polyline points="76.6,282.0 89.8,283.2 102.8,283.2 116.0,275.0 155.0,283.2 207.7,283.2 272.6,283.2" fill="none" stroke="#56B4E9" stroke-width="1.65" stroke-linejoin="round"/>
<polygon points="76.6,278.6 73.2,284.4 80.0,284.4" fill="#56B4E9"/>
<polygon points="89.8,279.8 86.4,285.6 93.2,285.6" fill="#56B4E9"/>
<polygon points="102.8,279.8 99.4,285.6 106.2,285.6" fill="#56B4E9"/>
<polygon points="116.0,271.6 112.6,277.4 119.4,277.4" fill="#56B4E9"/>
<polygon points="155.0,279.8 151.6,285.6 158.4,285.6" fill="#56B4E9"/>
<polygon points="207.7,279.8 204.3,285.6 211.1,285.6" fill="#56B4E9"/>
<polygon points="272.6,279.8 269.2,285.6 276.0,285.6" fill="#56B4E9"/>
<polyline points="76.6,283.2 89.8,283.2 102.8,265.7 116.0,228.9 155.0,268.6 207.7,283.2 272.6,283.2" fill="none" stroke="#009E73" stroke-width="1.65" stroke-linejoin="round"/>
<rect x="73.8" y="280.4" width="5.6" height="5.6" fill="#009E73"/>
<rect x="87.0" y="280.4" width="5.6" height="5.6" fill="#009E73"/>
<rect x="100.0" y="262.9" width="5.6" height="5.6" fill="#009E73"/>
<rect x="113.2" y="226.1" width="5.6" height="5.6" fill="#009E73"/>
<rect x="152.2" y="265.8" width="5.6" height="5.6" fill="#009E73"/>
<rect x="204.9" y="280.4" width="5.6" height="5.6" fill="#009E73"/>
<rect x="269.8" y="280.4" width="5.6" height="5.6" fill="#009E73"/>
<polyline points="76.6,254.0 89.8,283.2 102.8,234.8 116.0,245.3 155.0,249.4 207.7,233.0 272.6,225.2" fill="none" stroke="#D55E00" stroke-width="1.65" stroke-linejoin="round"/>
<path d="M72.0 254.0H81.2M76.6 249.4V258.6" stroke="#D55E00" stroke-width="1.6" fill="none"/>
<path d="M85.2 283.2H94.4M89.8 278.6V287.8" stroke="#D55E00" stroke-width="1.6" fill="none"/>
<path d="M98.2 234.8H107.4M102.8 230.2V239.4" stroke="#D55E00" stroke-width="1.6" fill="none"/>
<path d="M111.4 245.3H120.6M116.0 240.7V249.9" stroke="#D55E00" stroke-width="1.6" fill="none"/>
<path d="M150.4 249.4H159.6M155.0 244.8V254.0" stroke="#D55E00" stroke-width="1.6" fill="none"/>
<path d="M203.1 233.0H212.3M207.7 228.4V237.6" stroke="#D55E00" stroke-width="1.6" fill="none"/>
<path d="M268.0 225.2H277.2M272.6 220.6V229.8" stroke="#D55E00" stroke-width="1.6" fill="none"/>
<text x="95.6" y="222.3" font-size="8.3" text-anchor="middle" font-weight="normal" fill="#2a2a2a" >0.001</text>
<line x1="86.5" y1="223.2" x2="104" y2="223.2" stroke="#555" stroke-width="0.8"/>
<text x="67.8" y="321.0" font-size="12.4" text-anchor="start" font-weight="bold" fill="#000" >TNF<tspan font-size="6.5" dy="-5">+</tspan></text>
<path d="M66.7 329.6V394.2H283.3" stroke="#000" stroke-width="1.8" fill="none"/>
<line x1="62.900000000000006" y1="332.7" x2="66.7" y2="332.7" stroke="#000" stroke-width="1.4"/>
<text x="59.9" y="337.1" font-size="12.3" text-anchor="end" font-weight="normal" fill="#000" >0.012</text>
<line x1="62.900000000000006" y1="347.4" x2="66.7" y2="347.4" stroke="#000" stroke-width="1.4"/>
<text x="59.9" y="351.8" font-size="12.3" text-anchor="end" font-weight="normal" fill="#000" >0.009</text>
<line x1="62.900000000000006" y1="362.1" x2="66.7" y2="362.1" stroke="#000" stroke-width="1.4"/>
<text x="59.9" y="366.5" font-size="12.3" text-anchor="end" font-weight="normal" fill="#000" >0.006</text>
<line x1="62.900000000000006" y1="376.8" x2="66.7" y2="376.8" stroke="#000" stroke-width="1.4"/>
<text x="59.9" y="381.2" font-size="12.3" text-anchor="end" font-weight="normal" fill="#000" >0.003</text>
<line x1="62.900000000000006" y1="391.5" x2="66.7" y2="391.5" stroke="#000" stroke-width="1.4"/>
<text x="59.9" y="395.9" font-size="12.3" text-anchor="end" font-weight="normal" fill="#000" >0.000</text>
<line x1="76.6" y1="394.2" x2="76.6" y2="397.59999999999997" stroke="#000" stroke-width="1.4"/>
<text x="76.6" y="410.5" font-size="12" text-anchor="middle" font-weight="normal" fill="#000" >0</text>
<line x1="89.8" y1="394.2" x2="89.8" y2="397.59999999999997" stroke="#000" stroke-width="1.4"/>
<text x="89.8" y="410.5" font-size="12" text-anchor="middle" font-weight="normal" fill="#000" >4</text>
<line x1="102.8" y1="394.2" x2="102.8" y2="397.59999999999997" stroke="#000" stroke-width="1.4"/>
<text x="102.8" y="410.5" font-size="12" text-anchor="middle" font-weight="normal" fill="#000" >8</text>
<line x1="116.0" y1="394.2" x2="116.0" y2="397.59999999999997" stroke="#000" stroke-width="1.4"/>
<text x="116.0" y="410.5" font-size="12" text-anchor="middle" font-weight="normal" fill="#000" >12</text>
<line x1="155.0" y1="394.2" x2="155.0" y2="397.59999999999997" stroke="#000" stroke-width="1.4"/>
<text x="155.0" y="410.5" font-size="12" text-anchor="middle" font-weight="normal" fill="#000" >28</text>
<line x1="207.7" y1="394.2" x2="207.7" y2="397.59999999999997" stroke="#000" stroke-width="1.4"/>
<text x="207.7" y="410.5" font-size="12" text-anchor="middle" font-weight="normal" fill="#000" >52</text>
<line x1="272.6" y1="394.2" x2="272.6" y2="397.59999999999997" stroke="#000" stroke-width="1.4"/>
<text x="272.6" y="410.5" font-size="12" text-anchor="middle" font-weight="normal" fill="#000" >104</text>
<text x="24.8" y="364" font-size="14" text-anchor="middle" transform="rotate(-90 24.8 364)">% of CD4<tspan font-size="8" dy="-5">+</tspan><tspan dy="5">T</tspan></text>
<line x1="102.8" y1="330.6" x2="102.8" y2="392" stroke="#000" stroke-width="1.9" stroke-dasharray="4.5,2.2"/>
<polyline points="76.6,391.5 89.8,391.5 102.8,372.9 116.0,380.2 155.0,391.5 207.7,368.0 272.6,384.6" fill="none" stroke="#E69F00" stroke-width="1.65" stroke-linejoin="round"/>
<circle cx="76.6" cy="391.5" r="2.90" fill="#E69F00"/>
<circle cx="89.8" cy="391.5" r="2.90" fill="#E69F00"/>
<circle cx="102.8" cy="372.9" r="2.90" fill="#E69F00"/>
<circle cx="116.0" cy="380.2" r="2.90" fill="#E69F00"/>
<circle cx="155.0" cy="391.5" r="2.90" fill="#E69F00"/>
<circle cx="207.7" cy="368.0" r="2.90" fill="#E69F00"/>
<circle cx="272.6" cy="384.6" r="2.90" fill="#E69F00"/>
<polyline points="76.6,391.5 89.8,384.1 102.8,375.3 116.0,391.5 155.0,391.5 207.7,391.5 272.6,391.5" fill="none" stroke="#56B4E9" stroke-width="1.65" stroke-linejoin="round"/>
<polygon points="76.6,388.1 73.2,393.9 80.0,393.9" fill="#56B4E9"/>
<polygon points="89.8,380.8 86.4,386.5 93.2,386.5" fill="#56B4E9"/>
<polygon points="102.8,371.9 99.4,377.7 106.2,377.7" fill="#56B4E9"/>
<polygon points="116.0,388.1 112.6,393.9 119.4,393.9" fill="#56B4E9"/>
<polygon points="155.0,388.1 151.6,393.9 158.4,393.9" fill="#56B4E9"/>
<polygon points="207.7,388.1 204.3,393.9 211.1,393.9" fill="#56B4E9"/>
<polygon points="272.6,388.1 269.2,393.9 276.0,393.9" fill="#56B4E9"/>
<polyline points="76.6,391.5 89.8,391.5 102.8,385.1 116.0,333.2 155.0,343.0 207.7,346.4 272.6,363.1" fill="none" stroke="#009E73" stroke-width="1.65" stroke-linejoin="round"/>
<rect x="73.8" y="388.7" width="5.6" height="5.6" fill="#009E73"/>
<rect x="87.0" y="388.7" width="5.6" height="5.6" fill="#009E73"/>
<rect x="100.0" y="382.3" width="5.6" height="5.6" fill="#009E73"/>
<rect x="113.2" y="330.4" width="5.6" height="5.6" fill="#009E73"/>
<rect x="152.2" y="340.2" width="5.6" height="5.6" fill="#009E73"/>
<rect x="204.9" y="343.6" width="5.6" height="5.6" fill="#009E73"/>
<rect x="269.8" y="360.3" width="5.6" height="5.6" fill="#009E73"/>
<polyline points="76.6,386.1 89.8,391.5 102.8,391.5 116.0,391.5 155.0,391.5 207.7,391.5 272.6,391.5" fill="none" stroke="#D55E00" stroke-width="1.65" stroke-linejoin="round"/>
<path d="M72.0 386.1H81.2M76.6 381.5V390.7" stroke="#D55E00" stroke-width="1.6" fill="none"/>
<path d="M85.2 391.5H94.4M89.8 386.9V396.1" stroke="#D55E00" stroke-width="1.6" fill="none"/>
<path d="M98.2 391.5H107.4M102.8 386.9V396.1" stroke="#D55E00" stroke-width="1.6" fill="none"/>
<path d="M111.4 391.5H120.6M116.0 386.9V396.1" stroke="#D55E00" stroke-width="1.6" fill="none"/>
<path d="M150.4 391.5H159.6M155.0 386.9V396.1" stroke="#D55E00" stroke-width="1.6" fill="none"/>
<path d="M203.1 391.5H212.3M207.7 386.9V396.1" stroke="#D55E00" stroke-width="1.6" fill="none"/>
<path d="M268.0 391.5H277.2M272.6 386.9V396.1" stroke="#D55E00" stroke-width="1.6" fill="none"/>
<text x="67.8" y="426.5" font-size="12.1" text-anchor="start" font-weight="bold" fill="#000" >IL-4/IL-5/IL-13<tspan font-size="6.5" dy="-5">+</tspan></text>
<path d="M66.7 436.7V500.9H283.3" stroke="#000" stroke-width="1.8" fill="none"/>
<line x1="62.900000000000006" y1="441.8" x2="66.7" y2="441.8" stroke="#000" stroke-width="1.4"/>
<text x="59.9" y="446.2" font-size="12.3" text-anchor="end" font-weight="normal" fill="#000" >0.04</text>
<line x1="62.900000000000006" y1="455.9" x2="66.7" y2="455.9" stroke="#000" stroke-width="1.4"/>
<text x="59.9" y="460.2" font-size="12.3" text-anchor="end" font-weight="normal" fill="#000" >0.03</text>
<line x1="62.900000000000006" y1="469.9" x2="66.7" y2="469.9" stroke="#000" stroke-width="1.4"/>
<text x="59.9" y="474.3" font-size="12.3" text-anchor="end" font-weight="normal" fill="#000" >0.02</text>
<line x1="62.900000000000006" y1="483.9" x2="66.7" y2="483.9" stroke="#000" stroke-width="1.4"/>
<text x="59.9" y="488.3" font-size="12.3" text-anchor="end" font-weight="normal" fill="#000" >0.01</text>
<line x1="62.900000000000006" y1="498.0" x2="66.7" y2="498.0" stroke="#000" stroke-width="1.4"/>
<text x="59.9" y="502.4" font-size="12.3" text-anchor="end" font-weight="normal" fill="#000" >0.00</text>
<line x1="76.6" y1="500.9" x2="76.6" y2="504.29999999999995" stroke="#000" stroke-width="1.4"/>
<text x="76.6" y="516.6" font-size="12" text-anchor="middle" font-weight="normal" fill="#000" >0</text>
<line x1="89.8" y1="500.9" x2="89.8" y2="504.29999999999995" stroke="#000" stroke-width="1.4"/>
<text x="89.8" y="516.6" font-size="12" text-anchor="middle" font-weight="normal" fill="#000" >4</text>
<line x1="102.8" y1="500.9" x2="102.8" y2="504.29999999999995" stroke="#000" stroke-width="1.4"/>
<text x="102.8" y="516.6" font-size="12" text-anchor="middle" font-weight="normal" fill="#000" >8</text>
<line x1="116.0" y1="500.9" x2="116.0" y2="504.29999999999995" stroke="#000" stroke-width="1.4"/>
<text x="116.0" y="516.6" font-size="12" text-anchor="middle" font-weight="normal" fill="#000" >12</text>
<line x1="155.0" y1="500.9" x2="155.0" y2="504.29999999999995" stroke="#000" stroke-width="1.4"/>
<text x="155.0" y="516.6" font-size="12" text-anchor="middle" font-weight="normal" fill="#000" >28</text>
<line x1="207.7" y1="500.9" x2="207.7" y2="504.29999999999995" stroke="#000" stroke-width="1.4"/>
<text x="207.7" y="516.6" font-size="12" text-anchor="middle" font-weight="normal" fill="#000" >52</text>
<line x1="272.6" y1="500.9" x2="272.6" y2="504.29999999999995" stroke="#000" stroke-width="1.4"/>
<text x="272.6" y="516.6" font-size="12" text-anchor="middle" font-weight="normal" fill="#000" >104</text>
<text x="24.8" y="470.7" font-size="14" text-anchor="middle" transform="rotate(-90 24.8 470.7)">% of CD4<tspan font-size="8" dy="-5">+</tspan><tspan dy="5">T</tspan></text>
<line x1="116" y1="441" x2="116" y2="499" stroke="#000" stroke-width="1.9" stroke-dasharray="4.5,2.2"/>
<polyline points="76.6,498.0 89.8,498.0 102.8,490.4 116.0,490.0 155.0,478.3 207.7,492.7 272.6,439.3" fill="none" stroke="#E69F00" stroke-width="1.65" stroke-linejoin="round"/>
<circle cx="76.6" cy="498.0" r="2.90" fill="#E69F00"/>
<circle cx="89.8" cy="498.0" r="2.90" fill="#E69F00"/>
<circle cx="102.8" cy="490.4" r="2.90" fill="#E69F00"/>
<circle cx="116.0" cy="490.0" r="2.90" fill="#E69F00"/>
<circle cx="155.0" cy="478.3" r="2.90" fill="#E69F00"/>
<circle cx="207.7" cy="492.7" r="2.90" fill="#E69F00"/>
<circle cx="272.6" cy="439.3" r="2.90" fill="#E69F00"/>
<polyline points="76.6,487.7 89.8,498.0 102.8,484.9 116.0,473.3 155.0,492.5 207.7,498.0 272.6,498.0" fill="none" stroke="#56B4E9" stroke-width="1.65" stroke-linejoin="round"/>
<polygon points="76.6,484.3 73.2,490.1 80.0,490.1" fill="#56B4E9"/>
<polygon points="89.8,494.6 86.4,500.4 93.2,500.4" fill="#56B4E9"/>
<polygon points="102.8,481.5 99.4,487.3 106.2,487.3" fill="#56B4E9"/>
<polygon points="116.0,469.9 112.6,475.7 119.4,475.7" fill="#56B4E9"/>
<polygon points="155.0,489.1 151.6,494.9 158.4,494.9" fill="#56B4E9"/>
<polygon points="207.7,494.6 204.3,500.4 211.1,500.4" fill="#56B4E9"/>
<polygon points="272.6,494.6 269.2,500.4 276.0,500.4" fill="#56B4E9"/>
<polyline points="76.6,498.0 89.8,498.0 102.8,498.0 116.0,476.9 155.0,494.3 207.7,492.9 272.6,479.7" fill="none" stroke="#009E73" stroke-width="1.65" stroke-linejoin="round"/>
<rect x="73.8" y="495.2" width="5.6" height="5.6" fill="#009E73"/>
<rect x="87.0" y="495.2" width="5.6" height="5.6" fill="#009E73"/>
<rect x="100.0" y="495.2" width="5.6" height="5.6" fill="#009E73"/>
<rect x="113.2" y="474.1" width="5.6" height="5.6" fill="#009E73"/>
<rect x="152.2" y="491.5" width="5.6" height="5.6" fill="#009E73"/>
<rect x="204.9" y="490.1" width="5.6" height="5.6" fill="#009E73"/>
<rect x="269.8" y="476.9" width="5.6" height="5.6" fill="#009E73"/>
<polyline points="76.6,498.0 89.8,498.0 102.8,498.0 116.0,498.0 155.0,498.0 207.7,498.0 272.6,489.9" fill="none" stroke="#D55E00" stroke-width="1.65" stroke-linejoin="round"/>
<path d="M72.0 498.0H81.2M76.6 493.4V502.6" stroke="#D55E00" stroke-width="1.6" fill="none"/>
<path d="M85.2 498.0H94.4M89.8 493.4V502.6" stroke="#D55E00" stroke-width="1.6" fill="none"/>
<path d="M98.2 498.0H107.4M102.8 493.4V502.6" stroke="#D55E00" stroke-width="1.6" fill="none"/>
<path d="M111.4 498.0H120.6M116.0 493.4V502.6" stroke="#D55E00" stroke-width="1.6" fill="none"/>
<path d="M150.4 498.0H159.6M155.0 493.4V502.6" stroke="#D55E00" stroke-width="1.6" fill="none"/>
<path d="M203.1 498.0H212.3M207.7 493.4V502.6" stroke="#D55E00" stroke-width="1.6" fill="none"/>
<path d="M268.0 489.9H277.2M272.6 485.3V494.5" stroke="#D55E00" stroke-width="1.6" fill="none"/>
<path d="M76.6 445.5V442.2H116V445.5" stroke="#666" stroke-width="0.8" fill="none"/>
<text x="95.2" y="440.8" font-size="8.3" text-anchor="middle" font-weight="normal" fill="#2a2a2a" >0.061</text>
<path d="M76.6 436.5V433.3H272.6V436.5" stroke="#666" stroke-width="0.8" fill="none"/>
<text x="175.0" y="432.3" font-size="8.3" text-anchor="middle" font-weight="normal" fill="#2a2a2a" >0.018</text>
<text x="179.5" y="530.5" font-size="14" text-anchor="middle" font-weight="normal" fill="#000" >Week post-infection (WPI)</text>
<text x="307.8" y="208.2" font-size="18" text-anchor="start" font-weight="bold" fill="#000" >C</text>
<text x="359.0" y="212.0" font-size="12.5" text-anchor="start" font-weight="bold" fill="#000" >CD38<tspan font-size="8" dy="-5">hi</tspan></text>
<path d="M358.7 222.4V286.3H574" stroke="#000" stroke-width="1.8" fill="none"/>
<line x1="354.9" y1="224.5" x2="358.7" y2="224.5" stroke="#000" stroke-width="1.4"/>
<text x="351.9" y="228.9" font-size="12.3" text-anchor="end" font-weight="normal" fill="#000" >10</text>
<line x1="354.9" y1="239.3" x2="358.7" y2="239.3" stroke="#000" stroke-width="1.4"/>
<text x="351.9" y="243.7" font-size="12.3" text-anchor="end" font-weight="normal" fill="#000" >8</text>
<line x1="354.9" y1="254.1" x2="358.7" y2="254.1" stroke="#000" stroke-width="1.4"/>
<text x="351.9" y="258.5" font-size="12.3" text-anchor="end" font-weight="normal" fill="#000" >6</text>
<line x1="354.9" y1="268.9" x2="358.7" y2="268.9" stroke="#000" stroke-width="1.4"/>
<text x="351.9" y="273.3" font-size="12.3" text-anchor="end" font-weight="normal" fill="#000" >4</text>
<line x1="354.9" y1="283.7" x2="358.7" y2="283.7" stroke="#000" stroke-width="1.4"/>
<text x="351.9" y="288.1" font-size="12.3" text-anchor="end" font-weight="normal" fill="#000" >2</text>
<line x1="368.5" y1="286.3" x2="368.5" y2="289.7" stroke="#000" stroke-width="1.4"/>
<text x="368.5" y="302.7" font-size="12" text-anchor="middle" font-weight="normal" fill="#000" >0</text>
<line x1="381.7" y1="286.3" x2="381.7" y2="289.7" stroke="#000" stroke-width="1.4"/>
<text x="381.7" y="302.7" font-size="12" text-anchor="middle" font-weight="normal" fill="#000" >4</text>
<line x1="394.7" y1="286.3" x2="394.7" y2="289.7" stroke="#000" stroke-width="1.4"/>
<text x="394.7" y="302.7" font-size="12" text-anchor="middle" font-weight="normal" fill="#000" >8</text>
<line x1="407.9" y1="286.3" x2="407.9" y2="289.7" stroke="#000" stroke-width="1.4"/>
<text x="407.9" y="302.7" font-size="12" text-anchor="middle" font-weight="normal" fill="#000" >12</text>
<line x1="446.9" y1="286.3" x2="446.9" y2="289.7" stroke="#000" stroke-width="1.4"/>
<text x="446.9" y="302.7" font-size="12" text-anchor="middle" font-weight="normal" fill="#000" >28</text>
<line x1="499.6" y1="286.3" x2="499.6" y2="289.7" stroke="#000" stroke-width="1.4"/>
<text x="499.6" y="302.7" font-size="12" text-anchor="middle" font-weight="normal" fill="#000" >52</text>
<line x1="564.5" y1="286.3" x2="564.5" y2="289.7" stroke="#000" stroke-width="1.4"/>
<text x="564.5" y="302.7" font-size="12" text-anchor="middle" font-weight="normal" fill="#000" >104</text>
<text x="334.3" y="256.8" font-size="14" text-anchor="middle" transform="rotate(-90 334.3 256.8)">% of CD4<tspan font-size="8" dy="-5">+</tspan><tspan dy="5">T</tspan></text>
<polyline points="368.5,260.8 381.7,255.6 394.7,252.6 407.9,254.1 446.9,253.4 499.6,260.0 564.5,253.0" fill="none" stroke="#E69F00" stroke-width="1.65" stroke-linejoin="round"/>
<circle cx="368.5" cy="260.8" r="2.90" fill="#E69F00"/>
<circle cx="381.7" cy="255.6" r="2.90" fill="#E69F00"/>
<circle cx="394.7" cy="252.6" r="2.90" fill="#E69F00"/>
<circle cx="407.9" cy="254.1" r="2.90" fill="#E69F00"/>
<circle cx="446.9" cy="253.4" r="2.90" fill="#E69F00"/>
<circle cx="499.6" cy="260.0" r="2.90" fill="#E69F00"/>
<circle cx="564.5" cy="253.0" r="2.90" fill="#E69F00"/>
<polyline points="368.5,270.8 381.7,263.0 394.7,261.5 407.9,259.3 446.9,274.1 499.6,267.4 564.5,265.2" fill="none" stroke="#56B4E9" stroke-width="1.65" stroke-linejoin="round"/>
<polygon points="368.5,267.4 365.1,273.1 371.9,273.1" fill="#56B4E9"/>
<polygon points="381.7,259.6 378.3,265.4 385.1,265.4" fill="#56B4E9"/>
<polygon points="394.7,258.1 391.3,263.9 398.1,263.9" fill="#56B4E9"/>
<polygon points="407.9,255.9 404.5,261.7 411.3,261.7" fill="#56B4E9"/>
<polygon points="446.9,270.7 443.5,276.5 450.3,276.5" fill="#56B4E9"/>
<polygon points="499.6,264.0 496.2,269.8 503.0,269.8" fill="#56B4E9"/>
<polygon points="564.5,261.8 561.1,267.6 567.9,267.6" fill="#56B4E9"/>
<polyline points="368.5,248.9 381.7,246.7 394.7,237.4 407.9,245.2 446.9,246.0 499.6,239.7 564.5,248.9" fill="none" stroke="#009E73" stroke-width="1.65" stroke-linejoin="round"/>
<rect x="365.7" y="246.1" width="5.6" height="5.6" fill="#009E73"/>
<rect x="378.9" y="243.9" width="5.6" height="5.6" fill="#009E73"/>
<rect x="391.9" y="234.6" width="5.6" height="5.6" fill="#009E73"/>
<rect x="405.1" y="242.4" width="5.6" height="5.6" fill="#009E73"/>
<rect x="444.1" y="243.2" width="5.6" height="5.6" fill="#009E73"/>
<rect x="496.8" y="236.9" width="5.6" height="5.6" fill="#009E73"/>
<rect x="561.7" y="246.1" width="5.6" height="5.6" fill="#009E73"/>
<polyline points="368.5,258.2 381.7,251.1 394.7,252.2 407.9,259.3 446.9,254.8 499.6,260.8 564.5,255.6" fill="none" stroke="#D55E00" stroke-width="1.65" stroke-linejoin="round"/>
<path d="M363.9 258.2H373.1M368.5 253.6V262.8" stroke="#D55E00" stroke-width="1.6" fill="none"/>
<path d="M377.1 251.1H386.3M381.7 246.5V255.7" stroke="#D55E00" stroke-width="1.6" fill="none"/>
<path d="M390.1 252.2H399.3M394.7 247.7V256.9" stroke="#D55E00" stroke-width="1.6" fill="none"/>
<path d="M403.3 259.3H412.5M407.9 254.7V263.9" stroke="#D55E00" stroke-width="1.6" fill="none"/>
<path d="M442.3 254.8H451.5M446.9 250.2V259.4" stroke="#D55E00" stroke-width="1.6" fill="none"/>
<path d="M495.0 260.8H504.2M499.6 256.2V265.4" stroke="#D55E00" stroke-width="1.6" fill="none"/>
<path d="M559.9 255.6H569.1M564.5 251.0V260.2" stroke="#D55E00" stroke-width="1.6" fill="none"/>
<line x1="370" y1="225.5" x2="409.5" y2="225.5" stroke="#555" stroke-width="0.9"/>
<text x="389.8" y="225.0" font-size="8.3" text-anchor="middle" font-weight="normal" fill="#2a2a2a" >0.018</text>
<line x1="370" y1="233.4" x2="397" y2="233.4" stroke="#555" stroke-width="0.9"/>
<text x="382.0" y="233.5" font-size="8.3" text-anchor="middle" font-weight="normal" fill="#2a2a2a" >≤0.001</text>
<line x1="368" y1="241.5" x2="384" y2="241.5" stroke="#555" stroke-width="0.9"/>
<text x="375.5" y="241.8" font-size="8.3" text-anchor="middle" font-weight="normal" fill="#2a2a2a" >0.019</text>
<text x="600.2" y="213.5" font-size="14" text-anchor="start" font-weight="bold" fill="#000" >ID</text>
<line x1="596.3" y1="221.5" x2="606.3" y2="221.5" stroke="#E69F00" stroke-width="1.4"/>
<circle cx="601.3" cy="221.5" r="2.17" fill="#E69F00"/>
<text x="608.0" y="224.9" font-size="9.3" text-anchor="start" font-weight="normal" fill="#000" >D1</text>
<line x1="596.3" y1="236.5" x2="606.3" y2="236.5" stroke="#56B4E9" stroke-width="1.4"/>
<polygon points="601.3,233.9 598.8,238.3 603.8,238.3" fill="#56B4E9"/>
<text x="608.0" y="239.9" font-size="9.3" text-anchor="start" font-weight="normal" fill="#000" >D2</text>
<line x1="596.3" y1="251.5" x2="606.3" y2="251.5" stroke="#009E73" stroke-width="1.4"/>
<rect x="599.2" y="249.4" width="4.2" height="4.2" fill="#009E73"/>
<text x="608.0" y="254.9" font-size="9.3" text-anchor="start" font-weight="normal" fill="#000" >D3</text>
<line x1="596.3" y1="266.5" x2="606.3" y2="266.5" stroke="#D55E00" stroke-width="1.4"/>
<path d="M597.8 266.5H604.8M601.3 263.1V269.9" stroke="#D55E00" stroke-width="1.6" fill="none"/>
<text x="608.0" y="269.9" font-size="9.3" text-anchor="start" font-weight="normal" fill="#000" >D4</text>
<text x="307.0" y="334.6" font-size="18" text-anchor="start" font-weight="bold" fill="#000" >D</text>
<text x="393.2" y="332.4" font-size="13" text-anchor="middle" font-weight="bold" fill="#000" >0 WPI</text>
<text x="514.9" y="332.6" font-size="13" text-anchor="middle" font-weight="bold" fill="#000" >4 WPI</text>
<text x="632.6" y="332.6" font-size="13" text-anchor="middle" font-weight="bold" fill="#000" >8 WPI</text>
<defs><marker id="ah" viewBox="0 0 10 10" refX="10" refY="5" markerWidth="5.5" markerHeight="5.5" orient="auto-start-reverse"><path d="M0 0L10 5L0 10z" fill="#000"/></marker><marker id="ah2" viewBox="0 0 10 10" refX="9" refY="5" markerWidth="9" markerHeight="9" markerUnits="userSpaceOnUse" orient="auto"><path d="M0 0L10 5L0 10z" fill="#000"/></marker><filter id="bl" x="-20%" y="-20%" width="140%" height="140%"><feGaussianBlur stdDeviation="2.2"/></filter><filter id="bl2" x="-20%" y="-20%" width="140%" height="140%"><feGaussianBlur stdDeviation="1.2"/></filter></defs>
<path d="M368.1 299.7L377.6 322.3" stroke="#000" stroke-width="0.9" stroke-dasharray="3.5,2.5" fill="none" marker-end="url(#ah)"/>
<path d="M382.7 302.6L497 325" stroke="#000" stroke-width="0.9" stroke-dasharray="3.5,2.5" fill="none" marker-end="url(#ah)"/>
<path d="M396 301.5L613 326.4" stroke="#000" stroke-width="0.9" stroke-dasharray="3.5,2.5" fill="none" marker-end="url(#ah)"/>
<defs><filter id="fdens" x="0" y="0" width="1" height="1" filterUnits="objectBoundingBox" color-interpolation-filters="sRGB"><feGaussianBlur in="SourceGraphic" stdDeviation="2.2" result="b"/><feTurbulence type="fractalNoise" baseFrequency="0.08" numOctaves="1" seed="11" result="t"/><feColorMatrix in="t" type="matrix" values="1 0 0 0 0  1 0 0 0 0  1 0 0 0 0  0 0 0 0 1" result="tg"/><feComposite in="b" in2="tg" operator="arithmetic" k1="0" k2="1" k3="0.36" k4="-0.18" result="bn"/><feTurbulence type="fractalNoise" baseFrequency="0.07" numOctaves="1" seed="3" result="t2"/><feDisplacementMap in="bn" in2="t2" scale="5" xChannelSelector="R" yChannelSelector="G" result="d"/><feComponentTransfer in="d"><feFuncR type="discrete" tableValues="0 0.078 0.231 0.392 0.549 0.718 0.871 0.969 0.996 0.996 0.988"/><feFuncG type="discrete" tableValues="0 0.055 0.059 0.102 0.161 0.216 0.286 0.439 0.624 0.812 0.992"/><feFuncB type="discrete" tableValues="0.016 0.212 0.439 0.502 0.506 0.475 0.408 0.361 0.427 0.573 0.749"/></feComponentTransfer></filter></defs>
<line x1="351.4" y1="338.8" x2="351.4" y2="416.8" stroke="#ececec" stroke-width="0.7"/>
<line x1="375.9" y1="338.8" x2="375.9" y2="416.8" stroke="#ececec" stroke-width="0.7"/>
<line x1="400.4" y1="338.8" x2="400.4" y2="416.8" stroke="#ececec" stroke-width="0.7"/>
<line x1="424.9" y1="338.8" x2="424.9" y2="416.8" stroke="#ececec" stroke-width="0.7"/>
<line x1="330.1" y1="344.2" x2="440.1" y2="344.2" stroke="#ececec" stroke-width="0.7"/>
<line x1="330.1" y1="366.1" x2="440.1" y2="366.1" stroke="#ececec" stroke-width="0.7"/>
<line x1="330.1" y1="388.0" x2="440.1" y2="388.0" stroke="#ececec" stroke-width="0.7"/>
<line x1="330.1" y1="409.9" x2="440.1" y2="409.9" stroke="#ececec" stroke-width="0.7"/>
<clipPath id="cp1"><path d="M345.6 368.0C346.2 365.0 348.7 363.2 350.1 361.3C351.5 359.4 351.9 358.0 354.1 356.6C356.3 355.2 360.0 354.8 363.1 353.0C366.2 351.2 369.7 347.9 373.0 346.0C376.3 344.1 379.3 342.6 383.1 341.3C386.9 340.1 390.7 338.6 396.0 338.5C401.3 338.4 409.9 339.0 415.0 340.4C420.1 341.8 422.8 343.7 426.3 347.0C429.8 350.3 433.3 355.7 435.8 360.4C438.3 365.2 441.2 370.1 441.5 375.5C441.8 380.9 440.2 387.9 437.7 392.6C435.2 397.4 431.1 400.8 426.3 404.0C421.6 407.2 414.9 410.3 409.2 411.6C403.5 412.9 397.8 412.5 392.1 411.6C386.4 410.7 379.7 408.2 375.0 406.0C370.3 403.8 367.5 401.5 363.7 398.3C359.9 395.1 355.2 390.1 352.3 386.9C349.4 383.7 347.7 382.5 346.6 379.3C345.5 376.1 345.0 371.0 345.6 368.0Z"/></clipPath>
<defs><radialGradient id="rg1" cx="0.55" cy="0.5" r="0.55"><stop offset="0" stop-color="rgb(168,168,168)"/><stop offset="0.6" stop-color="rgb(127,127,127)"/><stop offset="1" stop-color="rgb(68,68,68)"/></radialGradient></defs>
<g clip-path="url(#cp1)"><g filter="url(#fdens)">
<rect x="324.1" y="324.8" width="130" height="100" fill="#000"/>
<path d="M345.6 368.0C346.2 365.0 348.7 363.2 350.1 361.3C351.5 359.4 351.9 358.0 354.1 356.6C356.3 355.2 360.0 354.8 363.1 353.0C366.2 351.2 369.7 347.9 373.0 346.0C376.3 344.1 379.3 342.6 383.1 341.3C386.9 340.1 390.7 338.6 396.0 338.5C401.3 338.4 409.9 339.0 415.0 340.4C420.1 341.8 422.8 343.7 426.3 347.0C429.8 350.3 433.3 355.7 435.8 360.4C438.3 365.2 441.2 370.1 441.5 375.5C441.8 380.9 440.2 387.9 437.7 392.6C435.2 397.4 431.1 400.8 426.3 404.0C421.6 407.2 414.9 410.3 409.2 411.6C403.5 412.9 397.8 412.5 392.1 411.6C386.4 410.7 379.7 408.2 375.0 406.0C370.3 403.8 367.5 401.5 363.7 398.3C359.9 395.1 355.2 390.1 352.3 386.9C349.4 383.7 347.7 382.5 346.6 379.3C345.5 376.1 345.0 371.0 345.6 368.0Z" fill="url(#rg1)"/>
<ellipse cx="391.1" cy="371.8" rx="24" ry="24" fill="#fff" fill-opacity="0.22"/>
<ellipse cx="391.1" cy="371.8" rx="19" ry="19" fill="#fff" fill-opacity="0.3"/>
<ellipse cx="389.1" cy="373.8" rx="13.5" ry="11.5" fill="#fff" fill-opacity="0.75"/>
<ellipse cx="389.1" cy="358.8" rx="6" ry="6" fill="#fff" fill-opacity="0.45"/>
<ellipse cx="378.1" cy="380.8" rx="6" ry="5" fill="#fff" fill-opacity="0.4"/>
<ellipse cx="402.1" cy="382.8" rx="6" ry="5" fill="#fff" fill-opacity="0.35"/>
<ellipse cx="358.1" cy="369.8" rx="5" ry="4" fill="#fff" fill-opacity="0.35"/>
<ellipse cx="367.1" cy="379.3" rx="5" ry="4" fill="#fff" fill-opacity="0.4"/>
<ellipse cx="381.5" cy="396.0" rx="5" ry="4" fill="#fff" fill-opacity="0.45"/>
<ellipse cx="422.9" cy="365.5" rx="5" ry="6" fill="#fff" fill-opacity="0.3"/>
<ellipse cx="409.1" cy="394.8" rx="6" ry="5" fill="#fff" fill-opacity="0.25"/>
<ellipse cx="374.1" cy="349.8" rx="5" ry="4" fill="#fff" fill-opacity="0.2"/>
<ellipse cx="414.1" cy="349.8" rx="6" ry="4" fill="#fff" fill-opacity="0.2"/>
</g></g>
<path d="M345.6 368.0C346.2 365.0 348.7 363.2 350.1 361.3C351.5 359.4 351.9 358.0 354.1 356.6C356.3 355.2 360.0 354.8 363.1 353.0C366.2 351.2 369.7 347.9 373.0 346.0C376.3 344.1 379.3 342.6 383.1 341.3C386.9 340.1 390.7 338.6 396.0 338.5C401.3 338.4 409.9 339.0 415.0 340.4C420.1 341.8 422.8 343.7 426.3 347.0C429.8 350.3 433.3 355.7 435.8 360.4C438.3 365.2 441.2 370.1 441.5 375.5C441.8 380.9 440.2 387.9 437.7 392.6C435.2 397.4 431.1 400.8 426.3 404.0C421.6 407.2 414.9 410.3 409.2 411.6C403.5 412.9 397.8 412.5 392.1 411.6C386.4 410.7 379.7 408.2 375.0 406.0C370.3 403.8 367.5 401.5 363.7 398.3C359.9 395.1 355.2 390.1 352.3 386.9C349.4 383.7 347.7 382.5 346.6 379.3C345.5 376.1 345.0 371.0 345.6 368.0Z" fill="none" stroke="#000" stroke-width="4.2" stroke-linejoin="round"/>
<ellipse cx="354.1" cy="374.8" rx="19.6" ry="30.3" fill="none" stroke="#1a1a1a" stroke-width="0.95" stroke-dasharray="3.4,2.3"/>
<path d="M332.7 418.3V400.8" stroke="#000" stroke-width="1.8"/>
<path d="M327.7 400.8L332.7 392.8L337.7 400.8Z" fill="#000"/>
<path d="M331.8 418.3H359.7" stroke="#000" stroke-width="1.8"/>
<path d="M359.7 413.3L367.7 418.3L359.7 423.3Z" fill="#000"/>
<text x="326.5" y="395" font-size="9" text-anchor="middle" transform="rotate(-90 326.5 395)">FI−tSNE2</text>
<text x="356.5" y="431.3" font-size="9" text-anchor="middle" font-weight="normal" fill="#000" >FI−tSNE1</text>
<line x1="473.4" y1="339.1" x2="473.4" y2="417.1" stroke="#ececec" stroke-width="0.7"/>
<line x1="497.9" y1="339.1" x2="497.9" y2="417.1" stroke="#ececec" stroke-width="0.7"/>
<line x1="522.4" y1="339.1" x2="522.4" y2="417.1" stroke="#ececec" stroke-width="0.7"/>
<line x1="546.9" y1="339.1" x2="546.9" y2="417.1" stroke="#ececec" stroke-width="0.7"/>
<line x1="452.1" y1="344.5" x2="562.1" y2="344.5" stroke="#ececec" stroke-width="0.7"/>
<line x1="452.1" y1="366.4" x2="562.1" y2="366.4" stroke="#ececec" stroke-width="0.7"/>
<line x1="452.1" y1="388.3" x2="562.1" y2="388.3" stroke="#ececec" stroke-width="0.7"/>
<line x1="452.1" y1="410.2" x2="562.1" y2="410.2" stroke="#ececec" stroke-width="0.7"/>
<clipPath id="cp2"><path d="M457.3 377.3C457.3 375.1 457.4 373.4 458.1 371.2C458.8 369.0 460.0 366.4 461.6 364.2C463.2 362.0 465.3 359.6 467.8 358.0C470.3 356.4 473.3 355.5 476.5 354.5C479.7 353.5 484.7 353.1 487.0 351.9C489.3 350.7 489.0 348.8 490.5 347.5C492.0 346.2 493.4 345.0 495.8 344.0C498.2 343.0 500.8 342.1 504.6 341.4C508.4 340.7 514.2 339.8 518.6 339.6C523.0 339.5 526.7 339.2 530.8 340.5C534.9 341.8 539.3 344.3 543.1 347.5C546.9 350.7 550.8 355.4 553.6 359.8C556.4 364.2 559.1 369.4 559.8 373.8C560.5 378.2 559.6 382.0 558.0 386.1C556.4 390.2 553.5 394.8 550.1 398.3C546.8 401.8 542.9 404.8 537.9 407.1C532.9 409.4 526.2 411.7 520.3 412.3C514.5 412.9 507.8 411.6 502.8 410.6C497.8 409.6 493.9 408.0 490.5 406.1C487.1 404.2 485.2 401.0 482.1 399.1C479.0 397.2 475.3 396.0 472.1 394.6C468.9 393.2 465.4 392.3 463.1 390.6C460.8 388.9 459.1 386.8 458.1 384.6C457.1 382.4 457.3 379.5 457.3 377.3Z"/></clipPath>
<defs><radialGradient id="rg2" cx="0.55" cy="0.5" r="0.55"><stop offset="0" stop-color="rgb(168,168,168)"/><stop offset="0.6" stop-color="rgb(127,127,127)"/><stop offset="1" stop-color="rgb(68,68,68)"/></radialGradient></defs>
<g clip-path="url(#cp2)"><g filter="url(#fdens)">
<rect x="446.1" y="325.1" width="130" height="100" fill="#000"/>
<path d="M457.3 377.3C457.3 375.1 457.4 373.4 458.1 371.2C458.8 369.0 460.0 366.4 461.6 364.2C463.2 362.0 465.3 359.6 467.8 358.0C470.3 356.4 473.3 355.5 476.5 354.5C479.7 353.5 484.7 353.1 487.0 351.9C489.3 350.7 489.0 348.8 490.5 347.5C492.0 346.2 493.4 345.0 495.8 344.0C498.2 343.0 500.8 342.1 504.6 341.4C508.4 340.7 514.2 339.8 518.6 339.6C523.0 339.5 526.7 339.2 530.8 340.5C534.9 341.8 539.3 344.3 543.1 347.5C546.9 350.7 550.8 355.4 553.6 359.8C556.4 364.2 559.1 369.4 559.8 373.8C560.5 378.2 559.6 382.0 558.0 386.1C556.4 390.2 553.5 394.8 550.1 398.3C546.8 401.8 542.9 404.8 537.9 407.1C532.9 409.4 526.2 411.7 520.3 412.3C514.5 412.9 507.8 411.6 502.8 410.6C497.8 409.6 493.9 408.0 490.5 406.1C487.1 404.2 485.2 401.0 482.1 399.1C479.0 397.2 475.3 396.0 472.1 394.6C468.9 393.2 465.4 392.3 463.1 390.6C460.8 388.9 459.1 386.8 458.1 384.6C457.1 382.4 457.3 379.5 457.3 377.3Z" fill="url(#rg2)"/>
<ellipse cx="516.8" cy="381.5" rx="21" ry="19" fill="#fff" fill-opacity="0.3"/>
<ellipse cx="508.1" cy="375.5" rx="5" ry="5" fill="#fff" fill-opacity="0.6"/>
<ellipse cx="521.1" cy="377.1" rx="6" ry="5" fill="#fff" fill-opacity="0.6"/>
<ellipse cx="506.1" cy="393.6" rx="5" ry="4" fill="#fff" fill-opacity="0.5"/>
<ellipse cx="524.1" cy="365.1" rx="4" ry="4" fill="#fff" fill-opacity="0.4"/>
<ellipse cx="513.1" cy="354.1" rx="9" ry="5" fill="#fff" fill-opacity="0.22"/>
<ellipse cx="536.1" cy="385.1" rx="6" ry="6" fill="#fff" fill-opacity="0.3"/>
<ellipse cx="479.1" cy="363.7" rx="9.6" ry="7.5" fill="#fff" fill-opacity="0.95"/>
<ellipse cx="474.8" cy="383.1" rx="13" ry="11" fill="#fff" fill-opacity="0.95"/>
<ellipse cx="484.1" cy="375.1" rx="6" ry="6" fill="#fff" fill-opacity="0.5"/>
<ellipse cx="481.1" cy="391.1" rx="6" ry="4" fill="#fff" fill-opacity="0.6"/>
</g></g>
<path d="M457.3 377.3C457.3 375.1 457.4 373.4 458.1 371.2C458.8 369.0 460.0 366.4 461.6 364.2C463.2 362.0 465.3 359.6 467.8 358.0C470.3 356.4 473.3 355.5 476.5 354.5C479.7 353.5 484.7 353.1 487.0 351.9C489.3 350.7 489.0 348.8 490.5 347.5C492.0 346.2 493.4 345.0 495.8 344.0C498.2 343.0 500.8 342.1 504.6 341.4C508.4 340.7 514.2 339.8 518.6 339.6C523.0 339.5 526.7 339.2 530.8 340.5C534.9 341.8 539.3 344.3 543.1 347.5C546.9 350.7 550.8 355.4 553.6 359.8C556.4 364.2 559.1 369.4 559.8 373.8C560.5 378.2 559.6 382.0 558.0 386.1C556.4 390.2 553.5 394.8 550.1 398.3C546.8 401.8 542.9 404.8 537.9 407.1C532.9 409.4 526.2 411.7 520.3 412.3C514.5 412.9 507.8 411.6 502.8 410.6C497.8 409.6 493.9 408.0 490.5 406.1C487.1 404.2 485.2 401.0 482.1 399.1C479.0 397.2 475.3 396.0 472.1 394.6C468.9 393.2 465.4 392.3 463.1 390.6C460.8 388.9 459.1 386.8 458.1 384.6C457.1 382.4 457.3 379.5 457.3 377.3Z" fill="none" stroke="#000" stroke-width="4.2" stroke-linejoin="round"/>
<ellipse cx="476.1" cy="375.1" rx="19.6" ry="30.3" fill="none" stroke="#1a1a1a" stroke-width="0.95" stroke-dasharray="3.4,2.3"/>
<path d="M450.7 417.6H478.5" stroke="#000" stroke-width="1.8"/>
<path d="M478.5 412.6L486.5 417.6L478.5 422.6Z" fill="#000"/>
<line x1="591.6" y1="339.1" x2="591.6" y2="417.1" stroke="#ececec" stroke-width="0.7"/>
<line x1="616.1" y1="339.1" x2="616.1" y2="417.1" stroke="#ececec" stroke-width="0.7"/>
<line x1="640.6" y1="339.1" x2="640.6" y2="417.1" stroke="#ececec" stroke-width="0.7"/>
<line x1="665.1" y1="339.1" x2="665.1" y2="417.1" stroke="#ececec" stroke-width="0.7"/>
<line x1="570.3" y1="344.5" x2="680.3" y2="344.5" stroke="#ececec" stroke-width="0.7"/>
<line x1="570.3" y1="366.4" x2="680.3" y2="366.4" stroke="#ececec" stroke-width="0.7"/>
<line x1="570.3" y1="388.3" x2="680.3" y2="388.3" stroke="#ececec" stroke-width="0.7"/>
<line x1="570.3" y1="410.2" x2="680.3" y2="410.2" stroke="#ececec" stroke-width="0.7"/>
<clipPath id="cp3"><path d="M578.7 375.6C579.1 373.8 580.6 372.3 581.8 370.1C583.0 367.9 583.8 364.9 586.0 362.4C588.2 360.0 591.0 357.2 594.8 355.4C598.6 353.7 605.9 353.5 608.8 351.9C611.7 350.3 610.0 347.6 612.3 345.8C614.6 344.1 618.4 342.6 622.8 341.4C627.2 340.2 633.6 338.8 638.6 338.8C643.6 338.8 648.2 339.5 652.6 341.4C657.0 343.3 661.4 346.8 664.9 350.1C668.4 353.5 671.3 357.4 673.6 361.5C675.9 365.6 678.6 370.3 678.9 374.7C679.2 379.1 677.5 383.6 675.4 387.8C673.3 392.0 670.4 396.5 666.6 400.1C662.8 403.8 657.8 407.7 652.6 409.7C647.3 411.7 640.9 412.5 635.1 412.3C629.3 412.1 622.9 410.6 617.6 408.8C612.3 407.1 607.6 404.7 603.5 401.8C599.4 398.9 596.0 394.1 593.0 391.3C590.0 388.6 587.5 387.1 585.3 385.3C583.0 383.5 580.6 382.3 579.5 380.7C578.4 379.1 578.3 377.4 578.7 375.6Z"/></clipPath>
<defs><radialGradient id="rg3" cx="0.55" cy="0.5" r="0.55"><stop offset="0" stop-color="rgb(168,168,168)"/><stop offset="0.6" stop-color="rgb(127,127,127)"/><stop offset="1" stop-color="rgb(68,68,68)"/></radialGradient></defs>
<g clip-path="url(#cp3)"><g filter="url(#fdens)">
<rect x="564.3" y="325.1" width="130" height="100" fill="#000"/>
<path d="M578.7 375.6C579.1 373.8 580.6 372.3 581.8 370.1C583.0 367.9 583.8 364.9 586.0 362.4C588.2 360.0 591.0 357.2 594.8 355.4C598.6 353.7 605.9 353.5 608.8 351.9C611.7 350.3 610.0 347.6 612.3 345.8C614.6 344.1 618.4 342.6 622.8 341.4C627.2 340.2 633.6 338.8 638.6 338.8C643.6 338.8 648.2 339.5 652.6 341.4C657.0 343.3 661.4 346.8 664.9 350.1C668.4 353.5 671.3 357.4 673.6 361.5C675.9 365.6 678.6 370.3 678.9 374.7C679.2 379.1 677.5 383.6 675.4 387.8C673.3 392.0 670.4 396.5 666.6 400.1C662.8 403.8 657.8 407.7 652.6 409.7C647.3 411.7 640.9 412.5 635.1 412.3C629.3 412.1 622.9 410.6 617.6 408.8C612.3 407.1 607.6 404.7 603.5 401.8C599.4 398.9 596.0 394.1 593.0 391.3C590.0 388.6 587.5 387.1 585.3 385.3C583.0 383.5 580.6 382.3 579.5 380.7C578.4 379.1 578.3 377.4 578.7 375.6Z" fill="url(#rg3)"/>
<ellipse cx="635.9" cy="373.5" rx="21" ry="18" fill="#fff" fill-opacity="0.3"/>
<ellipse cx="625.5" cy="370.3" rx="6" ry="5" fill="#fff" fill-opacity="0.6"/>
<ellipse cx="639.3" cy="367.5" rx="5" ry="5" fill="#fff" fill-opacity="0.55"/>
<ellipse cx="624.3" cy="355.1" rx="5" ry="4" fill="#fff" fill-opacity="0.4"/>
<ellipse cx="662.3" cy="363.1" rx="5" ry="5" fill="#fff" fill-opacity="0.4"/>
<ellipse cx="634.3" cy="390.1" rx="7" ry="5" fill="#fff" fill-opacity="0.35"/>
<ellipse cx="601.3" cy="380.1" rx="8.5" ry="12" fill="#fff" fill-opacity="0.92"/>
<ellipse cx="603.3" cy="367.1" rx="7" ry="8" fill="#fff" fill-opacity="0.85"/>
<ellipse cx="605.3" cy="360.1" rx="5" ry="4" fill="#fff" fill-opacity="0.5"/>
<ellipse cx="597.3" cy="389.1" rx="5" ry="5" fill="#fff" fill-opacity="0.6"/>
<ellipse cx="654.3" cy="397.1" rx="6" ry="5" fill="#fff" fill-opacity="0.2"/>
</g></g>
<path d="M578.7 375.6C579.1 373.8 580.6 372.3 581.8 370.1C583.0 367.9 583.8 364.9 586.0 362.4C588.2 360.0 591.0 357.2 594.8 355.4C598.6 353.7 605.9 353.5 608.8 351.9C611.7 350.3 610.0 347.6 612.3 345.8C614.6 344.1 618.4 342.6 622.8 341.4C627.2 340.2 633.6 338.8 638.6 338.8C643.6 338.8 648.2 339.5 652.6 341.4C657.0 343.3 661.4 346.8 664.9 350.1C668.4 353.5 671.3 357.4 673.6 361.5C675.9 365.6 678.6 370.3 678.9 374.7C679.2 379.1 677.5 383.6 675.4 387.8C673.3 392.0 670.4 396.5 666.6 400.1C662.8 403.8 657.8 407.7 652.6 409.7C647.3 411.7 640.9 412.5 635.1 412.3C629.3 412.1 622.9 410.6 617.6 408.8C612.3 407.1 607.6 404.7 603.5 401.8C599.4 398.9 596.0 394.1 593.0 391.3C590.0 388.6 587.5 387.1 585.3 385.3C583.0 383.5 580.6 382.3 579.5 380.7C578.4 379.1 578.3 377.4 578.7 375.6Z" fill="none" stroke="#000" stroke-width="4.2" stroke-linejoin="round"/>
<ellipse cx="594.3" cy="375.1" rx="19.6" ry="30.3" fill="none" stroke="#1a1a1a" stroke-width="0.95" stroke-dasharray="3.4,2.3"/>
<path d="M570.5 417.6H597.6" stroke="#000" stroke-width="1.8"/>
<path d="M597.6 412.6L605.6 417.6L597.6 422.6Z" fill="#000"/>
<text x="384.9" y="457.8" font-size="9.6" text-anchor="middle" font-weight="normal" fill="#000" >Density</text>
<rect x="351.90" y="461.3" width="6.83" height="12" fill="#000004"/>
<rect x="358.43" y="461.3" width="6.83" height="12" fill="#140e36"/>
<rect x="364.97" y="461.3" width="6.83" height="12" fill="#3b0f70"/>
<rect x="371.50" y="461.3" width="6.83" height="12" fill="#641a80"/>
<rect x="378.03" y="461.3" width="6.83" height="12" fill="#8c2981"/>
<rect x="384.57" y="461.3" width="6.83" height="12" fill="#b73779"/>
<rect x="391.10" y="461.3" width="6.83" height="12" fill="#de4968"/>
<rect x="397.63" y="461.3" width="6.83" height="12" fill="#f7705c"/>
<rect x="404.17" y="461.3" width="6.83" height="12" fill="#fe9f6d"/>
<rect x="410.70" y="461.3" width="6.83" height="12" fill="#fecf92"/>
<rect x="417.23" y="461.3" width="6.83" height="12" fill="#fcfdbf"/>
<rect x="423.77" y="461.3" width="6.83" height="12" fill="#fcfdbf"/>
<text x="351.9" y="479.6" font-size="8" text-anchor="start" font-weight="normal" fill="#111" >min</text>
<text x="430.3" y="479.6" font-size="8" text-anchor="end" font-weight="normal" fill="#111" >max</text>
<text x="392.5" y="493.0" font-size="9.6" text-anchor="middle" font-weight="normal" fill="#000" >Expression</text>
<rect x="351.9" y="495.2" width="78.4" height="10.5" fill="url(#expr)"/>
<text x="430.3" y="510.9" font-size="8" text-anchor="end" font-weight="normal" fill="#111" >max</text>
<defs><filter id="fexpr" x="0" y="0" width="1" height="1" filterUnits="objectBoundingBox" color-interpolation-filters="sRGB"><feGaussianBlur in="SourceGraphic" stdDeviation="1.5" result="b"/><feTurbulence type="fractalNoise" baseFrequency="0.11" numOctaves="2" seed="5" result="t"/><feColorMatrix in="t" type="matrix" values="1 0 0 0 0  1 0 0 0 0  1 0 0 0 0  0 0 0 0 1" result="tg"/><feComposite in="b" in2="tg" operator="arithmetic" k1="0" k2="1" k3="0.45" k4="-0.225" result="bn"/><feTurbulence type="fractalNoise" baseFrequency="0.5" numOctaves="1" seed="9" result="t2"/><feDisplacementMap in="bn" in2="t2" scale="3" xChannelSelector="R" yChannelSelector="G" result="d"/><feComponentTransfer in="d"><feFuncR type="table" tableValues="0.271 0.455 0.671 0.878 1 0.996 0.992 0.957 0.843"/><feFuncG type="table" tableValues="0.459 0.678 0.851 0.953 1 0.878 0.682 0.427 0.188"/><feFuncB type="table" tableValues="0.706 0.82 0.914 0.973 0.749 0.565 0.38 0.263 0.153"/></feComponentTransfer></filter><filter id="fexpr2" x="0" y="0" width="1" height="1" filterUnits="objectBoundingBox" color-interpolation-filters="sRGB"><feGaussianBlur in="SourceGraphic" stdDeviation="1.5" result="b"/><feTurbulence type="fractalNoise" baseFrequency="0.12" numOctaves="3" seed="21" result="t"/><feColorMatrix in="t" type="matrix" values="1 0 0 0 0  1 0 0 0 0  1 0 0 0 0  0 0 0 0 1" result="tg"/><feComposite in="b" in2="tg" operator="arithmetic" k1="0" k2="1" k3="0.62" k4="-0.3" result="bn"/><feTurbulence type="fractalNoise" baseFrequency="0.5" numOctaves="1" seed="9" result="t2"/><feDisplacementMap in="bn" in2="t2" scale="3" xChannelSelector="R" yChannelSelector="G" result="d"/><feComponentTransfer in="d"><feFuncR type="table" tableValues="0.271 0.455 0.671 0.878 1 0.996 0.992 0.957 0.843"/><feFuncG type="table" tableValues="0.459 0.678 0.851 0.953 1 0.878 0.682 0.427 0.188"/><feFuncB type="table" tableValues="0.706 0.82 0.914 0.973 0.749 0.565 0.38 0.263 0.153"/></feComponentTransfer></filter><filter id="fexpr3" x="0" y="0" width="1" height="1" filterUnits="objectBoundingBox" color-interpolation-filters="sRGB"><feGaussianBlur in="SourceGraphic" stdDeviation="1.5" result="b"/><feTurbulence type="fractalNoise" baseFrequency="0.22" numOctaves="2" seed="4" result="t"/><feColorMatrix in="t" type="matrix" values="1 0 0 0 0  1 0 0 0 0  1 0 0 0 0  0 0 0 0 1" result="tg"/><feComposite in="b" in2="tg" operator="arithmetic" k1="0" k2="1" k3="0.34" k4="-0.17" result="bn"/><feTurbulence type="fractalNoise" baseFrequency="0.6" numOctaves="1" seed="9" result="t2"/><feDisplacementMap in="bn" in2="t2" scale="3" xChannelSelector="R" yChannelSelector="G" result="d"/><feComponentTransfer in="d"><feFuncR type="table" tableValues="0.271 0.455 0.671 0.878 1 0.996 0.992 0.957 0.843"/><feFuncG type="table" tableValues="0.459 0.678 0.851 0.953 1 0.878 0.682 0.427 0.188"/><feFuncB type="table" tableValues="0.706 0.82 0.914 0.973 0.749 0.565 0.38 0.263 0.153"/></feComponentTransfer></filter><filter id="jag" x="-20%" y="-20%" width="140%" height="140%" color-interpolation-filters="sRGB"><feTurbulence type="fractalNoise" baseFrequency="0.7" numOctaves="1" seed="2" result="t"/><feDisplacementMap in="SourceGraphic" in2="t" scale="3.5" xChannelSelector="R" yChannelSelector="G"/></filter></defs>
<text x="508.8" y="432.4" font-size="11" text-anchor="middle" font-weight="normal" fill="#000" >CD45RO</text>
<line x1="473.3" y1="435.6" x2="473.3" y2="513.6" stroke="#ececec" stroke-width="0.7"/>
<line x1="497.8" y1="435.6" x2="497.8" y2="513.6" stroke="#ececec" stroke-width="0.7"/>
<line x1="522.3" y1="435.6" x2="522.3" y2="513.6" stroke="#ececec" stroke-width="0.7"/>
<line x1="546.8" y1="435.6" x2="546.8" y2="513.6" stroke="#ececec" stroke-width="0.7"/>
<line x1="452.0" y1="441.0" x2="562.0" y2="441.0" stroke="#ececec" stroke-width="0.7"/>
<line x1="452.0" y1="462.9" x2="562.0" y2="462.9" stroke="#ececec" stroke-width="0.7"/>
<line x1="452.0" y1="484.8" x2="562.0" y2="484.8" stroke="#ececec" stroke-width="0.7"/>
<line x1="452.0" y1="506.7" x2="562.0" y2="506.7" stroke="#ececec" stroke-width="0.7"/>
<defs><linearGradient id="g45" gradientUnits="userSpaceOnUse" x1="455" x2="560" y1="0" y2="0"><stop offset="0" stop-color="rgb(188,188,188)"/><stop offset="0.2" stop-color="rgb(178,178,178)"/><stop offset="0.3" stop-color="rgb(147,147,147)"/><stop offset="0.35" stop-color="rgb(96,96,96)"/><stop offset="0.52" stop-color="rgb(73,73,73)"/><stop offset="0.65" stop-color="rgb(53,53,53)"/><stop offset="0.76" stop-color="rgb(28,28,28)"/><stop offset="0.9" stop-color="rgb(10,10,10)"/><stop offset="1" stop-color="rgb(5,5,5)"/></linearGradient></defs>
<mask id="cp4" maskUnits="userSpaceOnUse" x="436" y="422" width="140" height="100"><path d="M459.6 475.5C459.8 472.5 461.8 467.5 464.0 463.6C466.2 459.7 469.3 454.0 472.8 451.9C476.3 449.8 481.8 452.6 485.0 451.0C488.2 449.4 489.1 444.5 492.0 442.3C494.9 440.1 497.9 438.8 502.6 437.9C507.3 437.0 515.3 436.9 520.0 437.0C524.7 437.1 526.8 437.1 530.6 438.8C534.4 440.6 539.4 444.3 542.9 447.5C546.4 450.7 549.1 453.9 551.6 458.0C554.1 462.1 557.1 468.2 557.7 472.0C558.3 475.8 556.7 477.9 555.1 480.8C553.5 483.7 551.6 485.8 548.1 489.6C544.6 493.4 538.8 500.2 534.1 503.6C529.4 507.0 525.2 508.8 520.0 509.7C514.8 510.6 507.3 509.8 502.6 508.8C497.9 507.8 495.2 505.4 492.0 503.6C488.8 501.9 487.1 500.9 483.3 498.3C479.5 495.7 472.7 490.6 469.3 487.8C465.9 485.0 464.6 483.7 463.0 481.6C461.4 479.6 459.4 478.5 459.6 475.5Z" fill="#fff" filter="url(#jag)"/></mask>
<g mask="url(#cp4)"><g filter="url(#fexpr3)">
<rect x="446.0" y="421.6" width="130" height="100" fill="rgb(76,76,76)"/>
<rect x="440" y="420" width="130" height="100" fill="url(#g45)"/>
<ellipse cx="468" cy="462" rx="9" ry="8" fill="rgb(191,191,191)"/>
<ellipse cx="478" cy="495" rx="9" ry="7" fill="rgb(153,153,153)"/>
</g></g>
<ellipse cx="476.0" cy="471.6" rx="19.6" ry="30.3" fill="none" stroke="#1a1a1a" stroke-width="0.95" stroke-dasharray="3.4,2.3"/>
<path d="M455.0 514.8V498.3" stroke="#000" stroke-width="1.8"/>
<path d="M450.0 498.3L455.0 490.3L460.0 498.3Z" fill="#000"/>
<path d="M454.1 514.8H480.0" stroke="#000" stroke-width="1.8"/>
<path d="M480.0 509.8L488.0 514.8L480.0 519.8Z" fill="#000"/>
<text x="627.0" y="432.4" font-size="11" text-anchor="middle" font-weight="normal" fill="#000" >CCR7</text>
<line x1="591.8" y1="435.5" x2="591.8" y2="513.5" stroke="#ececec" stroke-width="0.7"/>
<line x1="616.3" y1="435.5" x2="616.3" y2="513.5" stroke="#ececec" stroke-width="0.7"/>
<line x1="640.8" y1="435.5" x2="640.8" y2="513.5" stroke="#ececec" stroke-width="0.7"/>
<line x1="665.3" y1="435.5" x2="665.3" y2="513.5" stroke="#ececec" stroke-width="0.7"/>
<line x1="570.5" y1="440.9" x2="680.5" y2="440.9" stroke="#ececec" stroke-width="0.7"/>
<line x1="570.5" y1="462.8" x2="680.5" y2="462.8" stroke="#ececec" stroke-width="0.7"/>
<line x1="570.5" y1="484.7" x2="680.5" y2="484.7" stroke="#ececec" stroke-width="0.7"/>
<line x1="570.5" y1="506.6" x2="680.5" y2="506.6" stroke="#ececec" stroke-width="0.7"/>
<mask id="cp5" maskUnits="userSpaceOnUse" x="554" y="422" width="140" height="100"><path d="M578.1 475.4C578.3 472.4 580.3 467.4 582.5 463.5C584.7 459.6 587.8 453.9 591.3 451.8C594.8 449.7 600.3 452.5 603.5 450.9C606.7 449.3 607.6 444.4 610.5 442.2C613.4 440.0 616.4 438.7 621.1 437.8C625.8 436.9 633.8 436.8 638.5 436.9C643.2 437.0 645.3 436.9 649.1 438.7C652.9 440.4 657.9 444.2 661.4 447.4C664.9 450.6 667.6 453.8 670.1 457.9C672.6 462.0 675.6 468.1 676.2 471.9C676.8 475.7 675.2 477.8 673.6 480.7C672.0 483.6 670.1 485.7 666.6 489.5C663.1 493.3 657.3 500.1 652.6 503.5C647.9 506.9 643.8 508.7 638.5 509.6C633.2 510.5 625.8 509.7 621.1 508.7C616.4 507.7 613.7 505.2 610.5 503.5C607.3 501.8 605.6 500.8 601.8 498.2C598.0 495.6 591.2 490.5 587.8 487.7C584.4 484.9 583.1 483.6 581.5 481.5C579.9 479.4 577.9 478.4 578.1 475.4Z" fill="#fff" filter="url(#jag)"/></mask>
<g mask="url(#cp5)"><g filter="url(#fexpr3)">
<rect x="564.5" y="421.5" width="130" height="100" fill="rgb(150,150,150)"/>
<ellipse cx="602" cy="474" rx="13" ry="24" fill="rgb(127,127,127)"/>
<path d="M579 474L582 463L589 457L594 461L591 468L593 477L588 483L581 480Z" fill="rgb(30,30,30)"/>
<ellipse cx="650" cy="455" rx="12" ry="8" fill="rgb(163,163,163)"/>
<ellipse cx="625" cy="490" rx="14" ry="8" fill="rgb(158,158,158)"/>
</g></g>
<ellipse cx="594.5" cy="471.5" rx="19.6" ry="30.3" fill="none" stroke="#1a1a1a" stroke-width="0.95" stroke-dasharray="3.4,2.3"/>
<path d="M574.1 514.8V498.3" stroke="#000" stroke-width="1.8"/>
<path d="M569.1 498.3L574.1 490.3L579.1 498.3Z" fill="#000"/>
<path d="M573.2 514.8H599.1" stroke="#000" stroke-width="1.8"/>
<path d="M599.1 509.8L607.1 514.8L599.1 519.8Z" fill="#000"/>
<text x="391.0" y="533.9" font-size="11" text-anchor="middle" font-weight="normal" fill="#000" >ICOS</text>
<line x1="351.1" y1="543.4" x2="351.1" y2="621.4" stroke="#ececec" stroke-width="0.7"/>
<line x1="375.6" y1="543.4" x2="375.6" y2="621.4" stroke="#ececec" stroke-width="0.7"/>
<line x1="400.1" y1="543.4" x2="400.1" y2="621.4" stroke="#ececec" stroke-width="0.7"/>
<line x1="424.6" y1="543.4" x2="424.6" y2="621.4" stroke="#ececec" stroke-width="0.7"/>
<line x1="329.8" y1="548.8" x2="439.8" y2="548.8" stroke="#ececec" stroke-width="0.7"/>
<line x1="329.8" y1="570.7" x2="439.8" y2="570.7" stroke="#ececec" stroke-width="0.7"/>
<line x1="329.8" y1="592.6" x2="439.8" y2="592.6" stroke="#ececec" stroke-width="0.7"/>
<line x1="329.8" y1="614.5" x2="439.8" y2="614.5" stroke="#ececec" stroke-width="0.7"/>
<mask id="cp6" maskUnits="userSpaceOnUse" x="314" y="529" width="140" height="100"><path d="M338.7 579.4C339.5 575.2 342.9 564.0 347.1 560.1C351.3 556.2 359.7 557.9 363.9 555.9C368.1 553.9 368.7 550.4 372.3 548.3C375.9 546.2 380.9 544.3 385.7 543.3C390.4 542.3 396.6 542.5 400.8 542.5C405.0 542.5 407.6 541.8 410.9 543.3C414.2 544.8 417.8 548.6 420.9 551.7C424.0 554.8 427.1 558.4 429.3 561.8C431.6 565.1 433.0 569.0 434.4 571.8C435.8 574.6 437.7 575.7 437.7 578.5C437.7 581.3 435.8 585.2 434.4 588.6C433.0 592.0 431.6 595.6 429.3 598.7C427.1 601.8 424.2 604.6 420.9 607.1C417.5 609.6 413.7 612.4 409.2 613.8C404.7 615.2 399.1 615.5 394.1 615.5C389.1 615.5 383.5 615.2 379.0 613.8C374.5 612.4 370.6 609.9 367.2 607.1C363.8 604.3 361.6 600.1 358.8 597.0C356.0 593.9 353.2 590.6 350.4 588.6C347.6 586.6 344.1 586.8 342.1 585.3C340.2 583.8 337.9 583.6 338.7 579.4Z" fill="#fff" filter="url(#jag)"/></mask>
<g mask="url(#cp6)"><g filter="url(#fexpr2)">
<rect x="323.8" y="529.4" width="130" height="100" fill="rgb(7,7,7)"/>
<ellipse cx="368.8" cy="554.4" rx="7" ry="4" fill="rgb(35,35,35)"/>
<ellipse cx="383.8" cy="569.4" rx="5" ry="4" fill="rgb(35,35,35)"/>
<ellipse cx="403.8" cy="584.4" rx="6" ry="3" fill="rgb(35,35,35)"/>
<ellipse cx="373.8" cy="599.4" rx="5" ry="3" fill="rgb(35,35,35)"/>
<ellipse cx="413.8" cy="561.4" rx="4" ry="3" fill="rgb(35,35,35)"/>
<ellipse cx="393.8" cy="607.4" rx="7" ry="3" fill="rgb(35,35,35)"/>
<ellipse cx="423.8" cy="587.4" rx="3" ry="4" fill="rgb(35,35,35)"/>
<ellipse cx="361.8" cy="591.4" rx="4" ry="3" fill="rgb(35,35,35)"/>
<ellipse cx="398.8" cy="551.4" rx="5" ry="3" fill="rgb(35,35,35)"/>
<ellipse cx="355.8" cy="579.4" rx="16" ry="20" fill="rgb(66,66,66)"/>
<ellipse cx="352.8" cy="569.4" rx="11" ry="13" fill="rgb(114,114,114)"/>
<ellipse cx="345.8" cy="584.4" rx="6" ry="8" fill="rgb(102,102,102)"/>
</g></g>
<ellipse cx="353.8" cy="579.4" rx="19.6" ry="30.3" fill="none" stroke="#1a1a1a" stroke-width="0.95" stroke-dasharray="3.4,2.3"/>
<path d="M333.2 618.3V601.8" stroke="#000" stroke-width="1.8"/>
<path d="M328.2 601.8L333.2 593.8L338.2 601.8Z" fill="#000"/>
<path d="M332.3 618.3H358.2" stroke="#000" stroke-width="1.8"/>
<path d="M358.2 613.3L366.2 618.3L358.2 623.3Z" fill="#000"/>
<text x="507.0" y="533.9" font-size="11" text-anchor="middle" font-weight="normal" fill="#000" >PD1</text>
<line x1="473.0" y1="543.4" x2="473.0" y2="621.4" stroke="#ececec" stroke-width="0.7"/>
<line x1="497.5" y1="543.4" x2="497.5" y2="621.4" stroke="#ececec" stroke-width="0.7"/>
<line x1="522.0" y1="543.4" x2="522.0" y2="621.4" stroke="#ececec" stroke-width="0.7"/>
<line x1="546.5" y1="543.4" x2="546.5" y2="621.4" stroke="#ececec" stroke-width="0.7"/>
<line x1="451.7" y1="548.8" x2="561.7" y2="548.8" stroke="#ececec" stroke-width="0.7"/>
<line x1="451.7" y1="570.7" x2="561.7" y2="570.7" stroke="#ececec" stroke-width="0.7"/>
<line x1="451.7" y1="592.6" x2="561.7" y2="592.6" stroke="#ececec" stroke-width="0.7"/>
<line x1="451.7" y1="614.5" x2="561.7" y2="614.5" stroke="#ececec" stroke-width="0.7"/>
<mask id="cp7" maskUnits="userSpaceOnUse" x="436" y="529" width="140" height="100"><path d="M460.6 579.4C461.4 575.2 464.8 564.0 469.0 560.1C473.2 556.2 481.6 557.9 485.8 555.9C490.0 553.9 490.6 550.4 494.2 548.3C497.8 546.2 502.8 544.3 507.6 543.3C512.4 542.3 518.5 542.5 522.7 542.5C526.9 542.5 529.4 541.8 532.8 543.3C536.1 544.8 539.7 548.6 542.8 551.7C545.9 554.8 549.0 558.4 551.2 561.8C553.5 565.1 554.9 569.0 556.3 571.8C557.7 574.6 559.6 575.7 559.6 578.5C559.6 581.3 557.7 585.2 556.3 588.6C554.9 592.0 553.5 595.6 551.2 598.7C549.0 601.8 546.1 604.6 542.8 607.1C539.4 609.6 535.6 612.4 531.1 613.8C526.6 615.2 521.0 615.5 516.0 615.5C511.0 615.5 505.4 615.2 500.9 613.8C496.4 612.4 492.5 609.9 489.1 607.1C485.7 604.3 483.5 600.1 480.7 597.0C477.9 593.9 475.1 590.6 472.3 588.6C469.5 586.6 465.9 586.8 464.0 585.3C462.1 583.8 459.8 583.6 460.6 579.4Z" fill="#fff" filter="url(#jag)"/></mask>
<g mask="url(#cp7)"><g filter="url(#fexpr2)">
<rect x="445.7" y="529.4" width="130" height="100" fill="rgb(7,7,7)"/>
<ellipse cx="490.7" cy="554.4" rx="7" ry="4" fill="rgb(35,35,35)"/>
<ellipse cx="505.7" cy="569.4" rx="5" ry="4" fill="rgb(35,35,35)"/>
<ellipse cx="525.7" cy="584.4" rx="6" ry="3" fill="rgb(35,35,35)"/>
<ellipse cx="495.7" cy="599.4" rx="5" ry="3" fill="rgb(35,35,35)"/>
<ellipse cx="535.7" cy="561.4" rx="4" ry="3" fill="rgb(35,35,35)"/>
<ellipse cx="515.7" cy="607.4" rx="7" ry="3" fill="rgb(35,35,35)"/>
<ellipse cx="545.7" cy="587.4" rx="3" ry="4" fill="rgb(35,35,35)"/>
<ellipse cx="483.7" cy="591.4" rx="4" ry="3" fill="rgb(35,35,35)"/>
<ellipse cx="520.7" cy="551.4" rx="5" ry="3" fill="rgb(35,35,35)"/>
<ellipse cx="481.7" cy="575.4" rx="10" ry="14" fill="rgb(51,51,51)"/>
<ellipse cx="472.7" cy="574.4" rx="8" ry="13" fill="rgb(107,107,107)"/>
</g></g>
<ellipse cx="475.7" cy="579.4" rx="19.6" ry="30.3" fill="none" stroke="#1a1a1a" stroke-width="0.95" stroke-dasharray="3.4,2.3"/>
<path d="M455.1 618.3V601.8" stroke="#000" stroke-width="1.8"/>
<path d="M450.1 601.8L455.1 593.8L460.1 601.8Z" fill="#000"/>
<path d="M454.2 618.3H480.1" stroke="#000" stroke-width="1.8"/>
<path d="M480.1 613.3L488.1 618.3L480.1 623.3Z" fill="#000"/>
<text x="632.8" y="533.9" font-size="11" text-anchor="middle" font-weight="normal" fill="#000" >CTLA4</text>
<line x1="592.2" y1="543.4" x2="592.2" y2="621.4" stroke="#ececec" stroke-width="0.7"/>
<line x1="616.7" y1="543.4" x2="616.7" y2="621.4" stroke="#ececec" stroke-width="0.7"/>
<line x1="641.2" y1="543.4" x2="641.2" y2="621.4" stroke="#ececec" stroke-width="0.7"/>
<line x1="665.7" y1="543.4" x2="665.7" y2="621.4" stroke="#ececec" stroke-width="0.7"/>
<line x1="570.9" y1="548.8" x2="680.9" y2="548.8" stroke="#ececec" stroke-width="0.7"/>
<line x1="570.9" y1="570.7" x2="680.9" y2="570.7" stroke="#ececec" stroke-width="0.7"/>
<line x1="570.9" y1="592.6" x2="680.9" y2="592.6" stroke="#ececec" stroke-width="0.7"/>
<line x1="570.9" y1="614.5" x2="680.9" y2="614.5" stroke="#ececec" stroke-width="0.7"/>
<mask id="cp8" maskUnits="userSpaceOnUse" x="555" y="529" width="140" height="100"><path d="M579.8 579.4C580.6 575.2 584.0 564.0 588.2 560.1C592.4 556.2 600.8 557.9 605.0 555.9C609.2 553.9 609.8 550.4 613.4 548.3C617.0 546.2 622.0 544.3 626.8 543.3C631.5 542.3 637.7 542.5 641.9 542.5C646.1 542.5 648.6 541.8 652.0 543.3C655.4 544.8 658.9 548.6 662.0 551.7C665.1 554.8 668.1 558.4 670.4 561.8C672.6 565.1 674.1 569.0 675.5 571.8C676.9 574.6 678.8 575.7 678.8 578.5C678.8 581.3 676.9 585.2 675.5 588.6C674.1 592.0 672.6 595.6 670.4 598.7C668.1 601.8 665.4 604.6 662.0 607.1C658.6 609.6 654.8 612.4 650.3 613.8C645.8 615.2 640.2 615.5 635.2 615.5C630.2 615.5 624.6 615.2 620.1 613.8C615.6 612.4 611.7 609.9 608.3 607.1C604.9 604.3 602.7 600.1 599.9 597.0C597.1 593.9 594.3 590.6 591.5 588.6C588.7 586.6 585.1 586.8 583.2 585.3C581.2 583.8 579.0 583.6 579.8 579.4Z" fill="#fff" filter="url(#jag)"/></mask>
<g mask="url(#cp8)"><g filter="url(#fexpr2)">
<rect x="564.9" y="529.4" width="130" height="100" fill="rgb(7,7,7)"/>
<ellipse cx="609.9" cy="554.4" rx="7" ry="4" fill="rgb(35,35,35)"/>
<ellipse cx="624.9" cy="569.4" rx="5" ry="4" fill="rgb(35,35,35)"/>
<ellipse cx="644.9" cy="584.4" rx="6" ry="3" fill="rgb(35,35,35)"/>
<ellipse cx="614.9" cy="599.4" rx="5" ry="3" fill="rgb(35,35,35)"/>
<ellipse cx="654.9" cy="561.4" rx="4" ry="3" fill="rgb(35,35,35)"/>
<ellipse cx="634.9" cy="607.4" rx="7" ry="3" fill="rgb(35,35,35)"/>
<ellipse cx="664.9" cy="587.4" rx="3" ry="4" fill="rgb(35,35,35)"/>
<ellipse cx="602.9" cy="591.4" rx="4" ry="3" fill="rgb(35,35,35)"/>
<ellipse cx="639.9" cy="551.4" rx="5" ry="3" fill="rgb(35,35,35)"/>
<ellipse cx="608.9" cy="567.4" rx="14" ry="9" fill="rgb(61,61,61)"/>
<ellipse cx="592.9" cy="563.4" rx="12" ry="8" fill="rgb(117,117,117)"/>
<ellipse cx="590.9" cy="560.4" rx="7" ry="4" fill="rgb(183,183,183)"/>
</g></g>
<ellipse cx="594.9" cy="579.4" rx="19.6" ry="30.3" fill="none" stroke="#1a1a1a" stroke-width="0.95" stroke-dasharray="3.4,2.3"/>
<path d="M574.3 618.3V601.8" stroke="#000" stroke-width="1.8"/>
<path d="M569.3 601.8L574.3 593.8L579.3 601.8Z" fill="#000"/>
<path d="M573.4 618.3H599.3" stroke="#000" stroke-width="1.8"/>
<path d="M599.3 613.3L607.3 618.3L599.3 623.3Z" fill="#000"/>
</svg></body></html>
